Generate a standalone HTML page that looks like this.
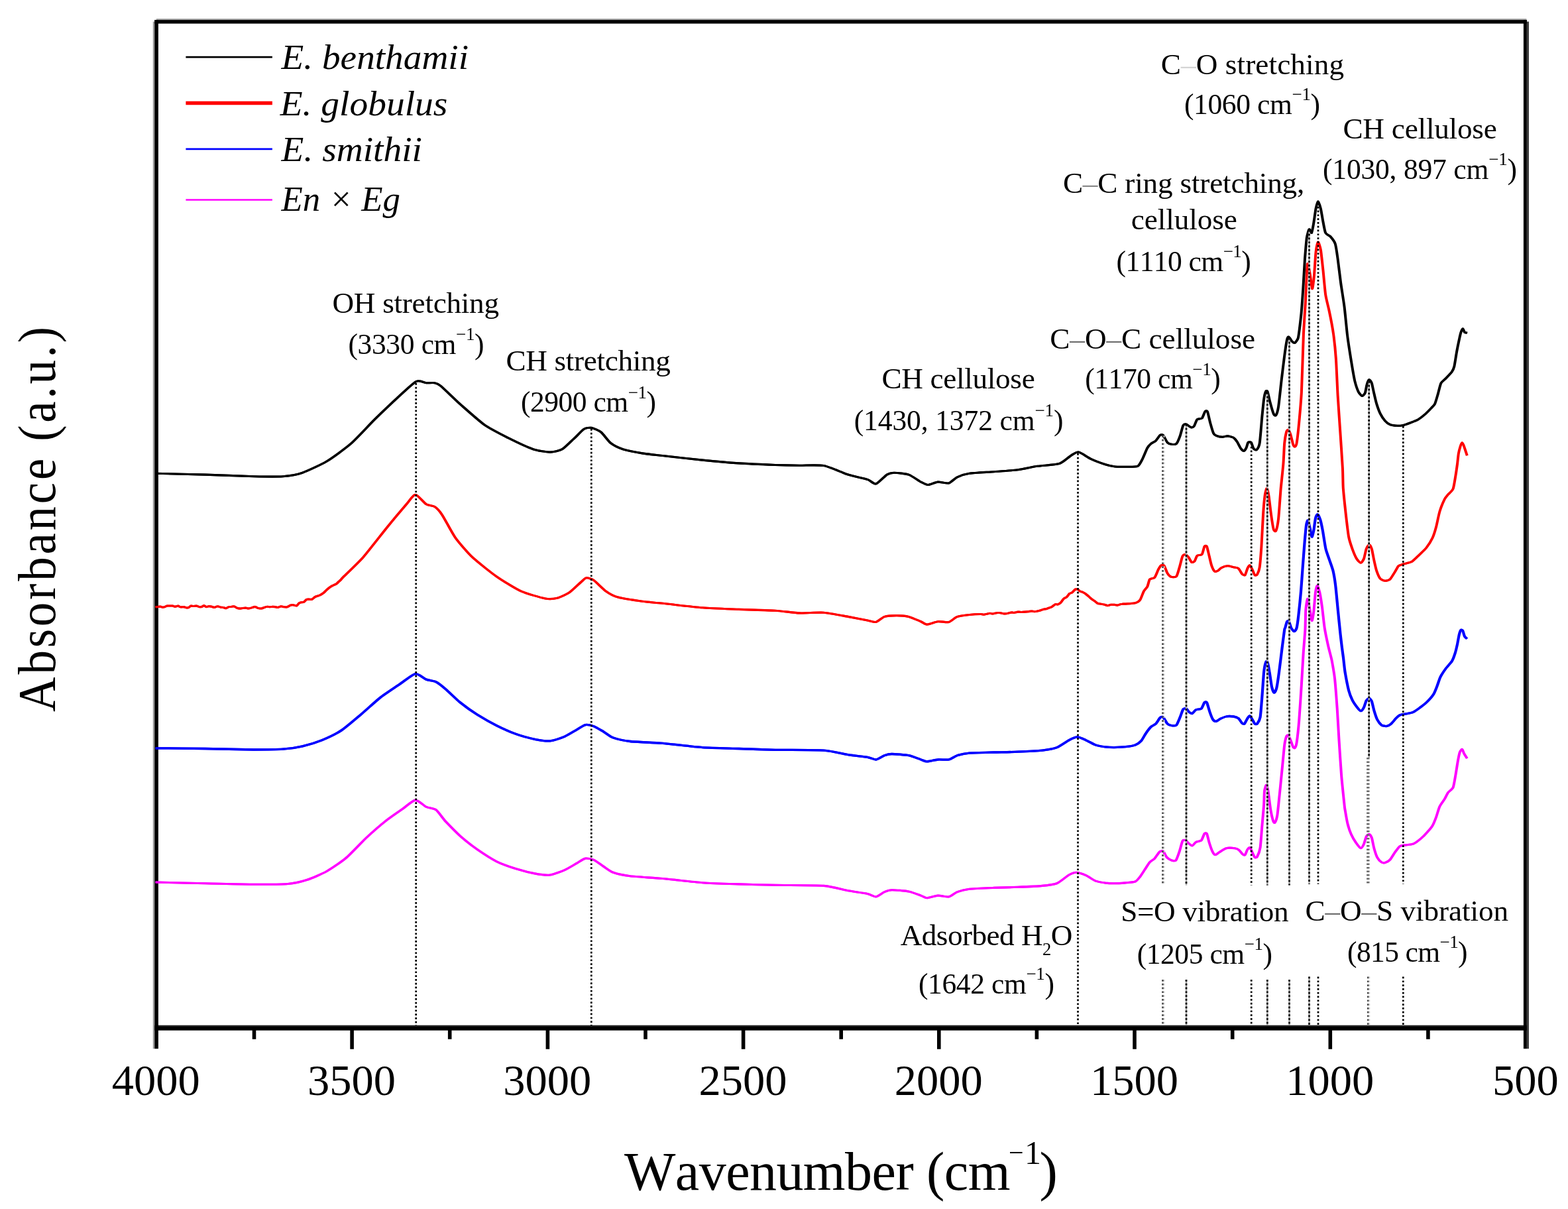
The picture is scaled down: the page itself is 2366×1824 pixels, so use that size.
<!DOCTYPE html>
<html lang="en"><head><meta charset="utf-8"><title>FTIR spectra</title>
<style>html,body{margin:0;padding:0;background:#fff}body{width:2366px;height:1824px;overflow:hidden}svg{display:block}text{font-family:'Liberation Serif', 'DejaVu Serif', serif;fill:#000;white-space:pre;font-kerning:none}</style>
</head><body>
<svg width="2366" height="1824" viewBox="0 0 2366 1824">
<rect width="2366" height="1824" fill="#fff"/>
<g shape-rendering="auto">
<rect x="230.8" y="32.6" width="2.7" height="1549.6" fill="#9a9a9a"/>
<rect x="235.8" y="28.1" width="2067.6" height="2.2" fill="#a6a6a6"/>
<rect x="2303.6" y="32.6" width="3.4" height="1549.6" fill="#3c3c3c"/>
<rect x="233.3" y="1546.7" width="2070.5" height="2.6" fill="#222"/>
<rect x="233.3" y="30.1" width="5.6" height="1552.1" fill="#000"/>
<rect x="2298.9" y="30.1" width="4.9" height="1552.1" fill="#000"/>
<rect x="233.3" y="30.1" width="2070.5" height="5.5" fill="#000"/>
<rect x="233.3" y="1549.0" width="2070.5" height="5.6" fill="#000"/>
</g>
<g fill="none" stroke-linejoin="round" stroke-linecap="butt">
<g stroke="#ff00ff" stroke-width="3.1"><path transform="translate(-0.45 0)" d="M234.8 1331.0C243.1 1331.2 293.6 1332.4 309.9 1332.8C326.2 1333.1 369.5 1334.2 383.2 1334.2C396.8 1334.3 425.6 1334.3 434.4 1333.5C443.3 1332.8 457.3 1329.4 463.7 1327.3C470.2 1325.2 486.6 1318.1 493.0 1314.5C499.5 1310.8 515.9 1299.8 522.3 1294.3C528.8 1288.9 545.2 1271.1 551.6 1265.0C558.1 1259.0 574.9 1244.2 581.0 1239.4C587.0 1234.5 601.6 1224.6 606.6 1221.1C611.6 1217.5 622.7 1207.5 626.7 1207.1C630.8 1206.7 639.8 1215.8 643.2 1217.4C646.6 1219.0 654.7 1219.4 657.9 1221.8C661.1 1224.2 668.5 1235.0 672.5 1239.4C676.6 1243.7 689.3 1256.7 694.5 1261.4C699.7 1266.0 714.1 1277.3 720.1 1281.5C726.2 1285.7 743.0 1296.6 749.5 1299.8C755.9 1303.0 772.3 1308.8 778.8 1310.8C785.2 1312.8 802.4 1317.1 808.1 1318.1C813.7 1319.1 825.2 1320.6 830.0 1320.0C834.9 1319.4 847.6 1314.6 852.0 1312.6C856.4 1310.7 866.9 1304.3 870.3 1302.4C873.8 1300.4 880.3 1295.6 883.2 1295.1C886.0 1294.5 892.9 1295.9 896.0 1297.3C899.0 1298.6 907.4 1305.0 910.6 1307.1C913.8 1309.2 920.8 1314.7 925.3 1316.3C929.7 1317.9 942.7 1320.8 950.9 1321.8C959.1 1322.8 988.0 1324.4 1000.0 1325.5C1012.0 1326.5 1047.3 1330.8 1059.9 1331.7C1072.5 1332.6 1102.7 1333.5 1114.8 1333.9C1126.9 1334.3 1155.7 1335.1 1169.8 1335.3C1183.9 1335.6 1231.0 1335.5 1243.0 1336.4C1255.1 1337.4 1272.4 1342.4 1279.7 1343.8C1286.9 1345.1 1304.3 1347.5 1309.0 1348.5C1313.6 1349.5 1319.0 1353.3 1321.8 1352.9C1324.6 1352.6 1332.0 1346.7 1334.6 1345.6C1337.2 1344.5 1341.6 1342.8 1345.6 1342.7C1349.6 1342.6 1366.4 1343.9 1371.2 1344.9C1376.1 1345.8 1386.5 1350.0 1389.6 1351.1C1392.6 1352.2 1395.9 1354.8 1398.7 1354.8C1401.5 1354.8 1411.6 1351.3 1415.2 1351.1C1418.8 1350.9 1428.5 1353.5 1431.7 1352.9C1434.9 1352.3 1441.1 1346.9 1444.5 1345.6C1447.9 1344.3 1456.8 1341.9 1462.8 1341.2C1468.9 1340.5 1491.4 1339.7 1499.5 1339.4C1507.5 1339.1 1528.0 1338.6 1536.1 1338.3C1544.1 1338.0 1566.3 1337.1 1572.7 1336.4C1579.2 1335.8 1590.3 1334.6 1594.7 1332.8C1599.1 1331.0 1609.8 1321.8 1613.0 1320.0C1616.2 1318.2 1621.2 1316.2 1624.0 1316.3C1626.8 1316.4 1635.4 1319.3 1638.6 1320.7C1641.9 1322.1 1650.1 1327.9 1653.3 1329.1C1656.5 1330.4 1664.9 1331.6 1667.9 1332.1C1671.0 1332.5 1677.4 1332.8 1680.8 1332.8C1684.1 1332.8 1694.8 1332.2 1698.3 1331.9C1701.9 1331.6 1710.5 1331.0 1713.0 1330.0C1715.4 1329.0 1718.7 1324.7 1720.3 1322.7C1721.9 1320.7 1726.0 1314.1 1727.6 1311.7C1729.2 1309.3 1733.3 1302.5 1734.9 1300.7C1736.6 1298.9 1740.7 1297.0 1742.3 1295.2C1743.9 1293.5 1748.2 1286.4 1749.6 1285.2C1751.0 1284.0 1753.9 1283.3 1755.1 1284.2C1756.3 1285.2 1759.2 1291.9 1760.6 1293.4C1762.0 1294.9 1766.4 1297.5 1767.9 1298.0C1769.4 1298.5 1773.0 1299.5 1774.3 1298.0C1775.6 1296.5 1778.7 1287.5 1779.8 1284.2C1780.9 1281.0 1783.4 1270.5 1784.4 1268.7C1785.4 1266.9 1788.0 1267.4 1789.0 1267.8C1790.0 1268.2 1792.4 1271.4 1793.6 1272.3C1794.7 1273.3 1797.8 1276.2 1799.0 1276.0C1800.3 1275.8 1803.0 1271.4 1804.5 1270.5C1806.1 1269.6 1811.4 1269.2 1812.8 1267.8C1814.2 1266.4 1816.5 1258.8 1817.4 1257.7C1818.3 1256.6 1820.2 1256.2 1821.0 1257.7C1821.8 1259.2 1823.8 1268.5 1824.7 1271.4C1825.6 1274.3 1828.3 1282.2 1829.3 1284.2C1830.3 1286.3 1832.7 1289.5 1833.8 1289.7C1835.0 1289.9 1837.5 1287.2 1839.3 1286.1C1841.2 1285.0 1847.7 1280.4 1850.3 1279.7C1852.9 1279.0 1861.0 1279.4 1863.2 1279.7C1865.3 1280.0 1868.3 1281.4 1869.6 1282.4C1870.9 1283.4 1874.0 1288.0 1875.1 1288.8C1876.1 1289.6 1877.9 1290.5 1878.7 1289.7C1879.5 1288.9 1881.6 1282.7 1882.4 1281.5C1883.2 1280.3 1885.2 1278.3 1886.0 1278.8C1886.8 1279.3 1888.9 1284.5 1889.7 1286.1C1890.5 1287.7 1892.6 1292.7 1893.4 1293.4C1894.2 1294.1 1896.1 1294.1 1897.0 1292.5C1897.9 1290.9 1900.8 1283.9 1901.6 1278.8C1902.4 1273.6 1903.8 1252.8 1904.4 1245.8C1905.0 1238.7 1906.7 1220.4 1907.1 1214.7C1907.5 1208.9 1907.6 1196.9 1908.0 1193.6C1908.4 1190.3 1910.2 1184.4 1910.8 1184.4C1911.4 1184.4 1912.8 1189.6 1913.5 1193.6C1914.2 1197.6 1916.4 1216.2 1917.2 1221.1C1918.0 1225.9 1920.1 1235.3 1920.8 1237.5C1921.5 1239.8 1922.9 1242.0 1923.6 1241.2C1924.3 1240.4 1926.4 1235.1 1927.3 1230.2C1928.1 1225.4 1930.1 1204.9 1930.9 1197.3C1931.7 1189.6 1933.8 1168.7 1934.6 1160.6C1935.4 1152.6 1937.5 1129.4 1938.2 1124.0C1938.9 1118.6 1940.4 1112.8 1941.0 1111.2C1941.6 1109.6 1943.0 1108.7 1943.7 1109.3C1944.4 1109.9 1946.6 1114.8 1947.4 1116.7C1948.2 1118.6 1950.4 1125.4 1951.1 1126.7C1951.8 1128.0 1953.2 1129.3 1953.8 1128.6C1954.4 1127.9 1955.9 1124.9 1956.6 1120.3C1957.3 1115.8 1959.4 1097.0 1960.2 1087.4C1961.0 1077.7 1963.2 1043.5 1963.9 1032.4C1964.6 1021.3 1966.0 995.7 1966.6 986.6C1967.2 977.6 1969.0 957.4 1969.4 950.0C1969.8 942.6 1969.9 924.9 1970.3 919.8C1970.7 914.6 1972.4 903.7 1973.0 903.3C1973.6 902.9 1975.1 912.5 1975.8 916.1C1976.5 919.7 1978.7 935.5 1979.5 936.3C1980.2 937.1 1981.6 928.1 1982.2 923.4C1982.8 918.8 1984.3 898.6 1984.9 894.1C1985.5 889.7 1987.0 883.2 1987.7 883.2C1988.4 883.2 1990.5 890.5 1991.4 894.1C1992.2 897.8 1994.2 910.3 1995.0 916.1C1995.8 922.0 1997.7 940.8 1998.7 947.3C1999.7 953.7 2003.0 969.3 2004.2 974.7C2005.4 980.1 2008.5 990.9 2009.6 996.2C2010.6 1001.6 2013.1 1015.3 2014.0 1023.3C2014.9 1031.3 2017.0 1059.0 2017.7 1069.0C2018.4 1079.1 2019.7 1103.8 2020.4 1114.8C2021.1 1125.9 2023.2 1158.7 2024.1 1169.8C2025.0 1180.9 2028.1 1209.8 2028.7 1215.6C2029.3 1221.3 2029.1 1219.1 2029.6 1222.0C2030.1 1224.9 2032.3 1238.1 2033.3 1242.1C2034.3 1246.2 2037.3 1255.4 2038.8 1258.6C2040.2 1261.8 2044.5 1269.1 2046.1 1271.4C2047.7 1273.7 2052.1 1279.5 2053.4 1279.7C2054.7 1279.9 2057.1 1275.2 2058.0 1273.3C2058.9 1271.3 2060.8 1263.9 2061.6 1262.3C2062.5 1260.7 2065.0 1258.4 2065.9 1258.6C2066.8 1258.8 2069.0 1261.7 2069.9 1264.1C2070.7 1266.5 2072.6 1277.4 2073.6 1280.6C2074.5 1283.8 2076.9 1291.2 2078.1 1293.4C2079.3 1295.6 2083.2 1299.8 2084.5 1300.7C2085.9 1301.6 2088.6 1302.1 2090.0 1301.6C2091.4 1301.2 2095.8 1298.8 2097.4 1297.1C2099.0 1295.4 2103.1 1288.3 2104.7 1286.1C2106.3 1283.9 2110.4 1278.1 2112.0 1276.9C2113.6 1275.7 2117.1 1275.5 2119.3 1275.1C2121.6 1274.7 2129.5 1274.3 2132.2 1273.3C2134.8 1272.3 2140.7 1267.9 2143.2 1265.9C2145.6 1263.9 2152.1 1257.2 2154.1 1254.9C2156.2 1252.7 2160.1 1248.2 2161.5 1245.8C2162.9 1243.4 2165.8 1236.2 2167.0 1233.0C2168.2 1229.7 2171.0 1219.5 2172.5 1216.5C2173.9 1213.5 2178.4 1207.8 2179.8 1205.5C2181.2 1203.2 2183.9 1197.3 2185.3 1195.4C2186.7 1193.5 2191.4 1190.9 2192.6 1188.1C2193.8 1185.3 2195.5 1174.2 2196.3 1169.8C2197.1 1165.3 2199.2 1151.6 2199.9 1147.8C2200.6 1144.0 2202.0 1136.9 2202.7 1135.0C2203.4 1133.1 2205.6 1130.2 2206.3 1130.4C2207.0 1130.6 2208.3 1135.3 2209.1 1136.8C2209.9 1138.3 2213.2 1143.3 2213.7 1144.1"/><path transform="translate(0.45 0)" d="M234.8 1331.0C243.1 1331.2 293.6 1332.4 309.9 1332.8C326.2 1333.1 369.5 1334.2 383.2 1334.2C396.8 1334.3 425.6 1334.3 434.4 1333.5C443.3 1332.8 457.3 1329.4 463.7 1327.3C470.2 1325.2 486.6 1318.1 493.0 1314.5C499.5 1310.8 515.9 1299.8 522.3 1294.3C528.8 1288.9 545.2 1271.1 551.6 1265.0C558.1 1259.0 574.9 1244.2 581.0 1239.4C587.0 1234.5 601.6 1224.6 606.6 1221.1C611.6 1217.5 622.7 1207.5 626.7 1207.1C630.8 1206.7 639.8 1215.8 643.2 1217.4C646.6 1219.0 654.7 1219.4 657.9 1221.8C661.1 1224.2 668.5 1235.0 672.5 1239.4C676.6 1243.7 689.3 1256.7 694.5 1261.4C699.7 1266.0 714.1 1277.3 720.1 1281.5C726.2 1285.7 743.0 1296.6 749.5 1299.8C755.9 1303.0 772.3 1308.8 778.8 1310.8C785.2 1312.8 802.4 1317.1 808.1 1318.1C813.7 1319.1 825.2 1320.6 830.0 1320.0C834.9 1319.4 847.6 1314.6 852.0 1312.6C856.4 1310.7 866.9 1304.3 870.3 1302.4C873.8 1300.4 880.3 1295.6 883.2 1295.1C886.0 1294.5 892.9 1295.9 896.0 1297.3C899.0 1298.6 907.4 1305.0 910.6 1307.1C913.8 1309.2 920.8 1314.7 925.3 1316.3C929.7 1317.9 942.7 1320.8 950.9 1321.8C959.1 1322.8 988.0 1324.4 1000.0 1325.5C1012.0 1326.5 1047.3 1330.8 1059.9 1331.7C1072.5 1332.6 1102.7 1333.5 1114.8 1333.9C1126.9 1334.3 1155.7 1335.1 1169.8 1335.3C1183.9 1335.6 1231.0 1335.5 1243.0 1336.4C1255.1 1337.4 1272.4 1342.4 1279.7 1343.8C1286.9 1345.1 1304.3 1347.5 1309.0 1348.5C1313.6 1349.5 1319.0 1353.3 1321.8 1352.9C1324.6 1352.6 1332.0 1346.7 1334.6 1345.6C1337.2 1344.5 1341.6 1342.8 1345.6 1342.7C1349.6 1342.6 1366.4 1343.9 1371.2 1344.9C1376.1 1345.8 1386.5 1350.0 1389.6 1351.1C1392.6 1352.2 1395.9 1354.8 1398.7 1354.8C1401.5 1354.8 1411.6 1351.3 1415.2 1351.1C1418.8 1350.9 1428.5 1353.5 1431.7 1352.9C1434.9 1352.3 1441.1 1346.9 1444.5 1345.6C1447.9 1344.3 1456.8 1341.9 1462.8 1341.2C1468.9 1340.5 1491.4 1339.7 1499.5 1339.4C1507.5 1339.1 1528.0 1338.6 1536.1 1338.3C1544.1 1338.0 1566.3 1337.1 1572.7 1336.4C1579.2 1335.8 1590.3 1334.6 1594.7 1332.8C1599.1 1331.0 1609.8 1321.8 1613.0 1320.0C1616.2 1318.2 1621.2 1316.2 1624.0 1316.3C1626.8 1316.4 1635.4 1319.3 1638.6 1320.7C1641.9 1322.1 1650.1 1327.9 1653.3 1329.1C1656.5 1330.4 1664.9 1331.6 1667.9 1332.1C1671.0 1332.5 1677.4 1332.8 1680.8 1332.8C1684.1 1332.8 1694.8 1332.2 1698.3 1331.9C1701.9 1331.6 1710.5 1331.0 1713.0 1330.0C1715.4 1329.0 1718.7 1324.7 1720.3 1322.7C1721.9 1320.7 1726.0 1314.1 1727.6 1311.7C1729.2 1309.3 1733.3 1302.5 1734.9 1300.7C1736.6 1298.9 1740.7 1297.0 1742.3 1295.2C1743.9 1293.5 1748.2 1286.4 1749.6 1285.2C1751.0 1284.0 1753.9 1283.3 1755.1 1284.2C1756.3 1285.2 1759.2 1291.9 1760.6 1293.4C1762.0 1294.9 1766.4 1297.5 1767.9 1298.0C1769.4 1298.5 1773.0 1299.5 1774.3 1298.0C1775.6 1296.5 1778.7 1287.5 1779.8 1284.2C1780.9 1281.0 1783.4 1270.5 1784.4 1268.7C1785.4 1266.9 1788.0 1267.4 1789.0 1267.8C1790.0 1268.2 1792.4 1271.4 1793.6 1272.3C1794.7 1273.3 1797.8 1276.2 1799.0 1276.0C1800.3 1275.8 1803.0 1271.4 1804.5 1270.5C1806.1 1269.6 1811.4 1269.2 1812.8 1267.8C1814.2 1266.4 1816.5 1258.8 1817.4 1257.7C1818.3 1256.6 1820.2 1256.2 1821.0 1257.7C1821.8 1259.2 1823.8 1268.5 1824.7 1271.4C1825.6 1274.3 1828.3 1282.2 1829.3 1284.2C1830.3 1286.3 1832.7 1289.5 1833.8 1289.7C1835.0 1289.9 1837.5 1287.2 1839.3 1286.1C1841.2 1285.0 1847.7 1280.4 1850.3 1279.7C1852.9 1279.0 1861.0 1279.4 1863.2 1279.7C1865.3 1280.0 1868.3 1281.4 1869.6 1282.4C1870.9 1283.4 1874.0 1288.0 1875.1 1288.8C1876.1 1289.6 1877.9 1290.5 1878.7 1289.7C1879.5 1288.9 1881.6 1282.7 1882.4 1281.5C1883.2 1280.3 1885.2 1278.3 1886.0 1278.8C1886.8 1279.3 1888.9 1284.5 1889.7 1286.1C1890.5 1287.7 1892.6 1292.7 1893.4 1293.4C1894.2 1294.1 1896.1 1294.1 1897.0 1292.5C1897.9 1290.9 1900.8 1283.9 1901.6 1278.8C1902.4 1273.6 1903.8 1252.8 1904.4 1245.8C1905.0 1238.7 1906.7 1220.4 1907.1 1214.7C1907.5 1208.9 1907.6 1196.9 1908.0 1193.6C1908.4 1190.3 1910.2 1184.4 1910.8 1184.4C1911.4 1184.4 1912.8 1189.6 1913.5 1193.6C1914.2 1197.6 1916.4 1216.2 1917.2 1221.1C1918.0 1225.9 1920.1 1235.3 1920.8 1237.5C1921.5 1239.8 1922.9 1242.0 1923.6 1241.2C1924.3 1240.4 1926.4 1235.1 1927.3 1230.2C1928.1 1225.4 1930.1 1204.9 1930.9 1197.3C1931.7 1189.6 1933.8 1168.7 1934.6 1160.6C1935.4 1152.6 1937.5 1129.4 1938.2 1124.0C1938.9 1118.6 1940.4 1112.8 1941.0 1111.2C1941.6 1109.6 1943.0 1108.7 1943.7 1109.3C1944.4 1109.9 1946.6 1114.8 1947.4 1116.7C1948.2 1118.6 1950.4 1125.4 1951.1 1126.7C1951.8 1128.0 1953.2 1129.3 1953.8 1128.6C1954.4 1127.9 1955.9 1124.9 1956.6 1120.3C1957.3 1115.8 1959.4 1097.0 1960.2 1087.4C1961.0 1077.7 1963.2 1043.5 1963.9 1032.4C1964.6 1021.3 1966.0 995.7 1966.6 986.6C1967.2 977.6 1969.0 957.4 1969.4 950.0C1969.8 942.6 1969.9 924.9 1970.3 919.8C1970.7 914.6 1972.4 903.7 1973.0 903.3C1973.6 902.9 1975.1 912.5 1975.8 916.1C1976.5 919.7 1978.7 935.5 1979.5 936.3C1980.2 937.1 1981.6 928.1 1982.2 923.4C1982.8 918.8 1984.3 898.6 1984.9 894.1C1985.5 889.7 1987.0 883.2 1987.7 883.2C1988.4 883.2 1990.5 890.5 1991.4 894.1C1992.2 897.8 1994.2 910.3 1995.0 916.1C1995.8 922.0 1997.7 940.8 1998.7 947.3C1999.7 953.7 2003.0 969.3 2004.2 974.7C2005.4 980.1 2008.5 990.9 2009.6 996.2C2010.6 1001.6 2013.1 1015.3 2014.0 1023.3C2014.9 1031.3 2017.0 1059.0 2017.7 1069.0C2018.4 1079.1 2019.7 1103.8 2020.4 1114.8C2021.1 1125.9 2023.2 1158.7 2024.1 1169.8C2025.0 1180.9 2028.1 1209.8 2028.7 1215.6C2029.3 1221.3 2029.1 1219.1 2029.6 1222.0C2030.1 1224.9 2032.3 1238.1 2033.3 1242.1C2034.3 1246.2 2037.3 1255.4 2038.8 1258.6C2040.2 1261.8 2044.5 1269.1 2046.1 1271.4C2047.7 1273.7 2052.1 1279.5 2053.4 1279.7C2054.7 1279.9 2057.1 1275.2 2058.0 1273.3C2058.9 1271.3 2060.8 1263.9 2061.6 1262.3C2062.5 1260.7 2065.0 1258.4 2065.9 1258.6C2066.8 1258.8 2069.0 1261.7 2069.9 1264.1C2070.7 1266.5 2072.6 1277.4 2073.6 1280.6C2074.5 1283.8 2076.9 1291.2 2078.1 1293.4C2079.3 1295.6 2083.2 1299.8 2084.5 1300.7C2085.9 1301.6 2088.6 1302.1 2090.0 1301.6C2091.4 1301.2 2095.8 1298.8 2097.4 1297.1C2099.0 1295.4 2103.1 1288.3 2104.7 1286.1C2106.3 1283.9 2110.4 1278.1 2112.0 1276.9C2113.6 1275.7 2117.1 1275.5 2119.3 1275.1C2121.6 1274.7 2129.5 1274.3 2132.2 1273.3C2134.8 1272.3 2140.7 1267.9 2143.2 1265.9C2145.6 1263.9 2152.1 1257.2 2154.1 1254.9C2156.2 1252.7 2160.1 1248.2 2161.5 1245.8C2162.9 1243.4 2165.8 1236.2 2167.0 1233.0C2168.2 1229.7 2171.0 1219.5 2172.5 1216.5C2173.9 1213.5 2178.4 1207.8 2179.8 1205.5C2181.2 1203.2 2183.9 1197.3 2185.3 1195.4C2186.7 1193.5 2191.4 1190.9 2192.6 1188.1C2193.8 1185.3 2195.5 1174.2 2196.3 1169.8C2197.1 1165.3 2199.2 1151.6 2199.9 1147.8C2200.6 1144.0 2202.0 1136.9 2202.7 1135.0C2203.4 1133.1 2205.6 1130.2 2206.3 1130.4C2207.0 1130.6 2208.3 1135.3 2209.1 1136.8C2209.9 1138.3 2213.2 1143.3 2213.7 1144.1"/></g>
<g stroke="#0000ff" stroke-width="3.3"><path transform="translate(-0.45 0)" d="M234.8 1128.8C243.1 1128.8 293.6 1129.2 309.9 1129.5C326.2 1129.7 370.3 1130.9 383.2 1131.0C396.0 1131.0 419.0 1130.8 427.1 1130.2C435.2 1129.7 450.0 1127.3 456.4 1125.8C462.9 1124.3 479.3 1119.3 485.7 1116.7C492.2 1114.0 508.6 1106.2 515.0 1102.0C521.5 1097.8 537.9 1083.6 544.3 1078.2C550.8 1072.8 567.2 1057.6 573.6 1052.6C580.1 1047.5 597.1 1036.4 602.9 1032.4C608.8 1028.5 622.3 1017.5 626.7 1016.7C631.2 1015.9 639.8 1023.8 643.2 1025.1C646.6 1026.4 654.7 1027.1 657.9 1028.8C661.1 1030.4 668.5 1036.3 672.5 1039.7C676.6 1043.2 689.3 1055.7 694.5 1059.9C699.7 1064.1 714.1 1074.4 720.1 1078.2C726.2 1082.0 743.0 1091.5 749.5 1094.7C755.9 1097.9 772.3 1105.2 778.8 1107.5C785.2 1109.8 802.4 1114.4 808.1 1115.6C813.7 1116.7 825.2 1118.2 830.0 1117.8C834.9 1117.3 847.6 1113.0 852.0 1111.2C856.4 1109.3 866.9 1102.8 870.3 1100.9C873.8 1099.0 880.3 1094.2 883.2 1093.6C886.0 1093.0 892.9 1094.7 896.0 1095.8C899.0 1096.9 907.4 1102.0 910.6 1103.8C913.8 1105.7 920.8 1111.4 925.3 1113.0C929.7 1114.6 942.7 1117.6 950.9 1118.5C959.1 1119.4 988.0 1120.4 1000.0 1121.4C1012.0 1122.4 1047.3 1126.8 1059.9 1127.7C1072.5 1128.5 1102.7 1129.1 1114.8 1129.5C1126.9 1129.9 1155.7 1131.0 1169.8 1131.3C1183.9 1131.6 1231.0 1131.2 1243.0 1132.1C1255.1 1132.9 1272.4 1137.5 1279.7 1138.6C1286.9 1139.8 1304.3 1141.5 1309.0 1142.3C1313.6 1143.1 1319.0 1146.3 1321.8 1146.0C1324.6 1145.7 1332.0 1140.7 1334.6 1139.7C1337.2 1138.8 1341.6 1137.5 1345.6 1137.5C1349.6 1137.5 1366.4 1138.8 1371.2 1139.7C1376.1 1140.7 1386.5 1145.0 1389.6 1146.0C1392.6 1147.0 1395.9 1148.9 1398.7 1148.9C1401.5 1148.9 1411.6 1146.3 1415.2 1146.0C1418.8 1145.6 1428.5 1146.7 1431.7 1146.0C1434.9 1145.3 1441.1 1140.8 1444.5 1139.7C1447.9 1138.7 1456.8 1136.6 1462.8 1136.1C1468.9 1135.6 1491.4 1135.2 1499.5 1135.0C1507.5 1134.8 1528.0 1134.6 1536.1 1134.2C1544.1 1133.9 1566.3 1132.8 1572.7 1132.1C1579.2 1131.3 1590.3 1129.3 1594.7 1127.7C1599.1 1126.0 1609.6 1118.4 1613.0 1116.7C1616.4 1114.9 1623.0 1111.9 1625.8 1111.9C1628.6 1111.9 1635.6 1115.3 1638.6 1116.7C1641.7 1118.0 1650.1 1122.9 1653.3 1124.0C1656.5 1125.1 1664.9 1126.5 1667.9 1126.9C1671.0 1127.3 1677.4 1127.7 1680.8 1127.7C1684.1 1127.6 1694.8 1127.1 1698.3 1126.7C1701.9 1126.3 1710.3 1125.0 1713.0 1124.0C1715.6 1123.0 1720.3 1119.6 1722.1 1117.6C1723.9 1115.6 1727.8 1108.0 1729.5 1105.7C1731.1 1103.4 1735.2 1098.0 1736.8 1096.5C1738.4 1095.0 1742.6 1093.5 1744.1 1091.9C1745.6 1090.4 1749.3 1083.9 1750.5 1082.8C1751.7 1081.7 1753.9 1080.9 1755.1 1081.9C1756.3 1082.9 1760.1 1090.5 1761.5 1091.9C1762.9 1093.4 1766.4 1094.5 1767.9 1094.7C1769.4 1094.9 1773.8 1095.2 1775.2 1093.8C1776.6 1092.4 1779.6 1084.5 1780.7 1081.9C1781.8 1079.2 1784.3 1071.4 1785.3 1070.0C1786.3 1068.6 1788.9 1068.5 1789.9 1069.0C1790.9 1069.6 1793.5 1073.7 1794.5 1074.5C1795.5 1075.3 1797.9 1076.8 1799.0 1076.4C1800.2 1076.0 1803.0 1071.7 1804.5 1070.9C1806.1 1070.1 1811.4 1070.3 1812.8 1069.0C1814.2 1067.8 1816.5 1060.9 1817.4 1059.9C1818.3 1058.9 1820.1 1058.3 1821.0 1059.9C1821.9 1061.5 1824.6 1071.7 1825.6 1074.5C1826.6 1077.4 1829.2 1084.0 1830.2 1085.5C1831.2 1087.0 1833.6 1088.4 1834.8 1088.3C1836.0 1088.2 1839.5 1085.4 1841.2 1084.6C1842.9 1083.8 1848.1 1081.4 1850.3 1081.0C1852.5 1080.5 1859.3 1080.7 1861.3 1081.0C1863.3 1081.3 1867.2 1082.6 1868.6 1083.7C1870.1 1084.8 1873.1 1090.1 1874.1 1091.0C1875.1 1091.9 1876.9 1092.7 1877.8 1091.9C1878.7 1091.1 1881.5 1085.0 1882.4 1083.7C1883.3 1082.4 1885.2 1079.8 1886.0 1080.0C1886.8 1080.2 1888.9 1084.2 1889.7 1085.5C1890.5 1086.8 1892.6 1091.2 1893.4 1091.9C1894.2 1092.6 1896.1 1093.0 1897.0 1091.9C1897.9 1090.8 1900.8 1086.4 1901.6 1081.9C1902.4 1077.3 1903.8 1058.2 1904.4 1050.7C1905.0 1043.3 1906.5 1019.7 1907.1 1014.1C1907.7 1008.5 1909.3 1001.2 1909.9 999.5C1910.4 997.7 1911.6 997.1 1912.2 998.5C1912.8 999.9 1914.6 1008.1 1915.3 1012.3C1916.1 1016.4 1918.2 1032.5 1919.0 1036.1C1919.8 1039.7 1921.9 1045.0 1922.7 1045.2C1923.5 1045.4 1925.5 1041.3 1926.3 1037.9C1927.1 1034.5 1929.1 1020.8 1930.0 1014.1C1930.9 1007.5 1933.7 984.5 1934.6 977.5C1935.5 970.4 1937.7 953.3 1938.2 950.0C1938.7 946.7 1938.8 948.6 1939.2 947.3C1939.6 945.9 1941.3 939.2 1941.9 938.1C1942.5 937.0 1943.9 936.2 1944.7 937.2C1945.4 938.2 1947.4 945.5 1948.3 947.3C1949.2 949.0 1952.0 952.7 1952.9 952.7C1953.8 952.7 1955.9 949.9 1956.6 947.3C1957.3 944.6 1958.6 935.0 1959.3 928.9C1960.0 922.9 1962.3 900.4 1963.0 892.3C1963.7 884.2 1965.1 863.7 1965.7 855.7C1966.3 847.6 1967.9 826.1 1968.5 819.0C1969.1 812.0 1970.6 795.3 1971.2 791.6C1971.8 787.8 1973.0 784.6 1973.6 785.2C1974.2 785.8 1976.1 794.3 1976.7 797.1C1977.3 799.8 1978.8 809.5 1979.5 809.9C1980.1 810.3 1981.6 803.8 1982.2 800.7C1982.8 797.7 1984.3 785.1 1984.9 782.4C1985.6 779.7 1987.4 775.8 1988.2 776.0C1989.0 776.2 1991.4 781.5 1992.3 784.2C1993.1 787.0 1995.0 795.9 1995.9 800.7C1996.8 805.6 1999.4 823.4 2000.5 828.2C2001.6 833.0 2004.8 841.1 2006.0 844.7C2007.2 848.3 2010.5 856.9 2011.5 861.2C2012.5 865.4 2014.4 876.7 2015.2 883.2C2016.0 889.6 2018.0 911.7 2018.8 919.8C2019.6 927.8 2021.8 950.1 2022.5 956.4C2023.2 962.8 2024.5 973.4 2025.0 977.5C2025.5 981.5 2026.6 989.0 2027.1 993.0C2027.6 997.1 2028.7 1008.8 2029.6 1014.1C2030.5 1019.4 2033.9 1036.9 2035.1 1041.6C2036.3 1046.2 2039.2 1053.4 2040.6 1056.2C2042.0 1059.0 2046.5 1065.4 2047.9 1067.2C2049.3 1069.0 2052.3 1072.7 2053.4 1072.7C2054.5 1072.7 2057.1 1068.9 2058.0 1067.2C2058.9 1065.5 2060.8 1058.7 2061.6 1057.1C2062.5 1055.6 2065.0 1053.4 2065.9 1053.5C2066.8 1053.6 2069.0 1055.9 2069.9 1058.1C2070.7 1060.2 2072.6 1069.7 2073.6 1072.7C2074.5 1075.7 2076.9 1083.2 2078.1 1085.5C2079.3 1087.8 2083.0 1092.7 2084.5 1093.8C2086.1 1094.9 2090.3 1095.8 2091.9 1095.6C2093.5 1095.4 2097.6 1093.3 2099.2 1091.9C2100.8 1090.6 2105.1 1085.1 2106.5 1083.7C2107.9 1082.3 2110.6 1079.8 2112.0 1079.1C2113.4 1078.4 2117.1 1077.8 2119.3 1077.3C2121.6 1076.8 2129.5 1075.7 2132.2 1074.5C2134.8 1073.4 2140.7 1069.0 2143.2 1067.2C2145.6 1065.4 2151.9 1060.3 2154.1 1058.1C2156.4 1055.8 2161.7 1049.7 2163.3 1047.1C2164.9 1044.5 2167.7 1037.1 2168.8 1034.2C2169.9 1031.4 2172.0 1024.2 2173.4 1021.4C2174.8 1018.6 2179.7 1011.2 2181.6 1008.6C2183.5 1006.0 2189.3 1000.0 2190.8 997.6C2192.3 995.2 2194.4 989.5 2195.3 986.6C2196.3 983.8 2198.3 975.2 2199.0 972.0C2199.7 968.8 2201.2 959.7 2201.8 957.3C2202.4 955.0 2203.9 951.1 2204.5 950.5C2205.1 949.9 2206.6 950.8 2207.3 951.8C2207.9 952.9 2209.3 958.8 2210.0 960.1C2210.7 961.4 2213.3 963.3 2213.7 963.7"/><path transform="translate(0.45 0)" d="M234.8 1128.8C243.1 1128.8 293.6 1129.2 309.9 1129.5C326.2 1129.7 370.3 1130.9 383.2 1131.0C396.0 1131.0 419.0 1130.8 427.1 1130.2C435.2 1129.7 450.0 1127.3 456.4 1125.8C462.9 1124.3 479.3 1119.3 485.7 1116.7C492.2 1114.0 508.6 1106.2 515.0 1102.0C521.5 1097.8 537.9 1083.6 544.3 1078.2C550.8 1072.8 567.2 1057.6 573.6 1052.6C580.1 1047.5 597.1 1036.4 602.9 1032.4C608.8 1028.5 622.3 1017.5 626.7 1016.7C631.2 1015.9 639.8 1023.8 643.2 1025.1C646.6 1026.4 654.7 1027.1 657.9 1028.8C661.1 1030.4 668.5 1036.3 672.5 1039.7C676.6 1043.2 689.3 1055.7 694.5 1059.9C699.7 1064.1 714.1 1074.4 720.1 1078.2C726.2 1082.0 743.0 1091.5 749.5 1094.7C755.9 1097.9 772.3 1105.2 778.8 1107.5C785.2 1109.8 802.4 1114.4 808.1 1115.6C813.7 1116.7 825.2 1118.2 830.0 1117.8C834.9 1117.3 847.6 1113.0 852.0 1111.2C856.4 1109.3 866.9 1102.8 870.3 1100.9C873.8 1099.0 880.3 1094.2 883.2 1093.6C886.0 1093.0 892.9 1094.7 896.0 1095.8C899.0 1096.9 907.4 1102.0 910.6 1103.8C913.8 1105.7 920.8 1111.4 925.3 1113.0C929.7 1114.6 942.7 1117.6 950.9 1118.5C959.1 1119.4 988.0 1120.4 1000.0 1121.4C1012.0 1122.4 1047.3 1126.8 1059.9 1127.7C1072.5 1128.5 1102.7 1129.1 1114.8 1129.5C1126.9 1129.9 1155.7 1131.0 1169.8 1131.3C1183.9 1131.6 1231.0 1131.2 1243.0 1132.1C1255.1 1132.9 1272.4 1137.5 1279.7 1138.6C1286.9 1139.8 1304.3 1141.5 1309.0 1142.3C1313.6 1143.1 1319.0 1146.3 1321.8 1146.0C1324.6 1145.7 1332.0 1140.7 1334.6 1139.7C1337.2 1138.8 1341.6 1137.5 1345.6 1137.5C1349.6 1137.5 1366.4 1138.8 1371.2 1139.7C1376.1 1140.7 1386.5 1145.0 1389.6 1146.0C1392.6 1147.0 1395.9 1148.9 1398.7 1148.9C1401.5 1148.9 1411.6 1146.3 1415.2 1146.0C1418.8 1145.6 1428.5 1146.7 1431.7 1146.0C1434.9 1145.3 1441.1 1140.8 1444.5 1139.7C1447.9 1138.7 1456.8 1136.6 1462.8 1136.1C1468.9 1135.6 1491.4 1135.2 1499.5 1135.0C1507.5 1134.8 1528.0 1134.6 1536.1 1134.2C1544.1 1133.9 1566.3 1132.8 1572.7 1132.1C1579.2 1131.3 1590.3 1129.3 1594.7 1127.7C1599.1 1126.0 1609.6 1118.4 1613.0 1116.7C1616.4 1114.9 1623.0 1111.9 1625.8 1111.9C1628.6 1111.9 1635.6 1115.3 1638.6 1116.7C1641.7 1118.0 1650.1 1122.9 1653.3 1124.0C1656.5 1125.1 1664.9 1126.5 1667.9 1126.9C1671.0 1127.3 1677.4 1127.7 1680.8 1127.7C1684.1 1127.6 1694.8 1127.1 1698.3 1126.7C1701.9 1126.3 1710.3 1125.0 1713.0 1124.0C1715.6 1123.0 1720.3 1119.6 1722.1 1117.6C1723.9 1115.6 1727.8 1108.0 1729.5 1105.7C1731.1 1103.4 1735.2 1098.0 1736.8 1096.5C1738.4 1095.0 1742.6 1093.5 1744.1 1091.9C1745.6 1090.4 1749.3 1083.9 1750.5 1082.8C1751.7 1081.7 1753.9 1080.9 1755.1 1081.9C1756.3 1082.9 1760.1 1090.5 1761.5 1091.9C1762.9 1093.4 1766.4 1094.5 1767.9 1094.7C1769.4 1094.9 1773.8 1095.2 1775.2 1093.8C1776.6 1092.4 1779.6 1084.5 1780.7 1081.9C1781.8 1079.2 1784.3 1071.4 1785.3 1070.0C1786.3 1068.6 1788.9 1068.5 1789.9 1069.0C1790.9 1069.6 1793.5 1073.7 1794.5 1074.5C1795.5 1075.3 1797.9 1076.8 1799.0 1076.4C1800.2 1076.0 1803.0 1071.7 1804.5 1070.9C1806.1 1070.1 1811.4 1070.3 1812.8 1069.0C1814.2 1067.8 1816.5 1060.9 1817.4 1059.9C1818.3 1058.9 1820.1 1058.3 1821.0 1059.9C1821.9 1061.5 1824.6 1071.7 1825.6 1074.5C1826.6 1077.4 1829.2 1084.0 1830.2 1085.5C1831.2 1087.0 1833.6 1088.4 1834.8 1088.3C1836.0 1088.2 1839.5 1085.4 1841.2 1084.6C1842.9 1083.8 1848.1 1081.4 1850.3 1081.0C1852.5 1080.5 1859.3 1080.7 1861.3 1081.0C1863.3 1081.3 1867.2 1082.6 1868.6 1083.7C1870.1 1084.8 1873.1 1090.1 1874.1 1091.0C1875.1 1091.9 1876.9 1092.7 1877.8 1091.9C1878.7 1091.1 1881.5 1085.0 1882.4 1083.7C1883.3 1082.4 1885.2 1079.8 1886.0 1080.0C1886.8 1080.2 1888.9 1084.2 1889.7 1085.5C1890.5 1086.8 1892.6 1091.2 1893.4 1091.9C1894.2 1092.6 1896.1 1093.0 1897.0 1091.9C1897.9 1090.8 1900.8 1086.4 1901.6 1081.9C1902.4 1077.3 1903.8 1058.2 1904.4 1050.7C1905.0 1043.3 1906.5 1019.7 1907.1 1014.1C1907.7 1008.5 1909.3 1001.2 1909.9 999.5C1910.4 997.7 1911.6 997.1 1912.2 998.5C1912.8 999.9 1914.6 1008.1 1915.3 1012.3C1916.1 1016.4 1918.2 1032.5 1919.0 1036.1C1919.8 1039.7 1921.9 1045.0 1922.7 1045.2C1923.5 1045.4 1925.5 1041.3 1926.3 1037.9C1927.1 1034.5 1929.1 1020.8 1930.0 1014.1C1930.9 1007.5 1933.7 984.5 1934.6 977.5C1935.5 970.4 1937.7 953.3 1938.2 950.0C1938.7 946.7 1938.8 948.6 1939.2 947.3C1939.6 945.9 1941.3 939.2 1941.9 938.1C1942.5 937.0 1943.9 936.2 1944.7 937.2C1945.4 938.2 1947.4 945.5 1948.3 947.3C1949.2 949.0 1952.0 952.7 1952.9 952.7C1953.8 952.7 1955.9 949.9 1956.6 947.3C1957.3 944.6 1958.6 935.0 1959.3 928.9C1960.0 922.9 1962.3 900.4 1963.0 892.3C1963.7 884.2 1965.1 863.7 1965.7 855.7C1966.3 847.6 1967.9 826.1 1968.5 819.0C1969.1 812.0 1970.6 795.3 1971.2 791.6C1971.8 787.8 1973.0 784.6 1973.6 785.2C1974.2 785.8 1976.1 794.3 1976.7 797.1C1977.3 799.8 1978.8 809.5 1979.5 809.9C1980.1 810.3 1981.6 803.8 1982.2 800.7C1982.8 797.7 1984.3 785.1 1984.9 782.4C1985.6 779.7 1987.4 775.8 1988.2 776.0C1989.0 776.2 1991.4 781.5 1992.3 784.2C1993.1 787.0 1995.0 795.9 1995.9 800.7C1996.8 805.6 1999.4 823.4 2000.5 828.2C2001.6 833.0 2004.8 841.1 2006.0 844.7C2007.2 848.3 2010.5 856.9 2011.5 861.2C2012.5 865.4 2014.4 876.7 2015.2 883.2C2016.0 889.6 2018.0 911.7 2018.8 919.8C2019.6 927.8 2021.8 950.1 2022.5 956.4C2023.2 962.8 2024.5 973.4 2025.0 977.5C2025.5 981.5 2026.6 989.0 2027.1 993.0C2027.6 997.1 2028.7 1008.8 2029.6 1014.1C2030.5 1019.4 2033.9 1036.9 2035.1 1041.6C2036.3 1046.2 2039.2 1053.4 2040.6 1056.2C2042.0 1059.0 2046.5 1065.4 2047.9 1067.2C2049.3 1069.0 2052.3 1072.7 2053.4 1072.7C2054.5 1072.7 2057.1 1068.9 2058.0 1067.2C2058.9 1065.5 2060.8 1058.7 2061.6 1057.1C2062.5 1055.6 2065.0 1053.4 2065.9 1053.5C2066.8 1053.6 2069.0 1055.9 2069.9 1058.1C2070.7 1060.2 2072.6 1069.7 2073.6 1072.7C2074.5 1075.7 2076.9 1083.2 2078.1 1085.5C2079.3 1087.8 2083.0 1092.7 2084.5 1093.8C2086.1 1094.9 2090.3 1095.8 2091.9 1095.6C2093.5 1095.4 2097.6 1093.3 2099.2 1091.9C2100.8 1090.6 2105.1 1085.1 2106.5 1083.7C2107.9 1082.3 2110.6 1079.8 2112.0 1079.1C2113.4 1078.4 2117.1 1077.8 2119.3 1077.3C2121.6 1076.8 2129.5 1075.7 2132.2 1074.5C2134.8 1073.4 2140.7 1069.0 2143.2 1067.2C2145.6 1065.4 2151.9 1060.3 2154.1 1058.1C2156.4 1055.8 2161.7 1049.7 2163.3 1047.1C2164.9 1044.5 2167.7 1037.1 2168.8 1034.2C2169.9 1031.4 2172.0 1024.2 2173.4 1021.4C2174.8 1018.6 2179.7 1011.2 2181.6 1008.6C2183.5 1006.0 2189.3 1000.0 2190.8 997.6C2192.3 995.2 2194.4 989.5 2195.3 986.6C2196.3 983.8 2198.3 975.2 2199.0 972.0C2199.7 968.8 2201.2 959.7 2201.8 957.3C2202.4 955.0 2203.9 951.1 2204.5 950.5C2205.1 949.9 2206.6 950.8 2207.3 951.8C2207.9 952.9 2209.3 958.8 2210.0 960.1C2210.7 961.4 2213.3 963.3 2213.7 963.7"/></g>
<g stroke="#ff0000" stroke-width="3.1"><path transform="translate(-0.45 0)" d="M234.8 915.8C235.6 915.7 240.8 915.0 242.0 915.1C243.2 915.1 244.6 916.1 245.3 916.2C246.0 916.2 247.7 916.0 248.4 915.7C249.2 915.5 251.4 914.3 252.3 914.1C253.2 913.9 255.6 914.0 256.5 914.0C257.4 914.0 259.8 913.9 260.6 914.0C261.3 914.2 262.8 915.2 263.7 915.2C264.6 915.2 267.8 914.1 268.7 914.1C269.7 914.2 271.3 915.7 272.3 915.8C273.2 916.0 276.6 915.5 277.6 915.6C278.6 915.7 280.7 916.8 281.5 916.9C282.3 917.0 283.8 916.8 284.6 916.5C285.3 916.2 287.5 914.2 288.2 914.0C289.0 913.8 290.6 914.5 291.5 914.5C292.4 914.6 295.4 914.0 296.5 914.1C297.5 914.2 300.0 915.5 300.9 915.6C301.8 915.7 304.0 915.5 304.8 915.2C305.5 915.0 307.1 913.5 307.9 913.5C308.6 913.6 310.5 915.6 311.3 915.7C312.1 915.8 314.4 914.6 315.3 914.6C316.3 914.5 318.9 915.0 319.8 915.2C320.6 915.4 322.5 916.5 323.4 916.5C324.4 916.4 327.2 914.8 328.2 914.8C329.2 914.7 331.5 915.6 332.5 915.9C333.6 916.1 336.7 916.5 337.7 916.7C338.7 916.9 340.6 917.8 341.3 917.7C342.1 917.6 343.7 916.2 344.6 915.9C345.5 915.6 348.4 915.3 349.4 915.2C350.4 915.0 352.6 914.6 353.6 914.9C354.6 915.2 357.2 917.2 358.2 917.5C359.2 917.9 361.7 918.1 362.6 918.1C363.5 918.1 365.4 917.6 366.3 917.5C367.2 917.4 369.8 917.1 370.8 917.1C371.7 917.2 373.8 918.0 374.9 918.0C375.9 918.0 379.1 917.1 380.2 916.8C381.3 916.5 383.8 915.3 384.8 915.4C385.8 915.4 388.4 917.1 389.5 917.4C390.6 917.6 394.0 918.0 395.0 917.9C396.0 917.8 397.7 916.8 398.6 916.5C399.5 916.2 402.3 915.3 403.2 915.2C404.2 915.1 406.5 915.7 407.3 915.7C408.2 915.7 409.7 915.4 410.6 915.4C411.5 915.3 414.5 915.5 415.5 915.6C416.4 915.7 418.1 916.6 419.0 916.5C420.0 916.4 423.1 914.8 424.2 914.7C425.2 914.6 427.2 915.5 428.2 915.6C429.2 915.8 432.3 916.0 433.4 915.7C434.5 915.4 437.5 913.4 438.5 913.1C439.5 912.7 441.5 912.6 442.5 912.7C443.5 912.8 446.7 914.2 447.7 913.9C448.6 913.6 450.2 910.7 451.0 910.2C451.7 909.6 453.7 909.0 454.5 908.8C455.4 908.6 457.8 908.7 458.7 908.2C459.5 907.7 461.4 905.1 462.3 904.6C463.1 904.2 465.3 904.2 466.3 904.1C467.2 904.1 469.6 904.6 470.6 904.2C471.6 903.8 474.3 901.2 475.3 900.7C476.3 900.1 479.0 899.3 479.8 899.0C480.6 898.7 482.0 898.3 482.9 897.9C483.8 897.4 486.7 895.6 487.8 894.8C488.9 893.9 491.8 891.0 492.7 890.1C493.7 889.2 495.8 887.4 496.7 886.7C497.6 886.0 500.4 884.3 501.2 883.8C502.1 883.3 503.6 882.7 504.3 882.4C505.0 882.1 507.0 881.3 507.7 880.8C508.4 880.3 510.1 878.4 510.8 877.8C511.5 877.1 513.3 875.7 514.1 874.9C514.9 874.1 514.2 874.4 517.9 870.6C521.7 866.8 540.7 849.0 548.0 840.7C555.3 832.3 577.4 803.7 584.6 794.9C591.9 786.0 609.3 765.4 613.9 760.1C618.6 754.7 623.5 746.1 626.7 746.2C630.0 746.2 640.0 758.8 643.2 760.8C646.4 762.8 653.4 762.7 656.0 764.5C658.7 766.2 663.6 771.4 667.0 776.6C670.5 781.7 682.1 804.3 687.2 811.4C692.2 818.4 706.0 834.2 712.8 840.7C719.7 847.1 741.4 864.3 749.5 870.0C757.5 875.6 778.0 888.3 786.1 891.9C794.1 895.6 816.7 901.8 822.7 902.9C828.8 904.1 837.0 903.2 841.0 902.2C845.1 901.2 855.3 896.5 859.3 893.8C863.4 891.0 874.8 879.7 877.7 877.3C880.5 874.9 883.0 872.0 885.0 871.8C887.0 871.6 892.7 873.2 896.0 875.5C899.2 877.7 910.3 889.1 914.3 891.9C918.3 894.8 926.6 899.4 932.6 901.1C938.6 902.8 961.8 906.3 969.2 907.3C976.6 908.3 990.0 909.2 1000.0 910.3C1010.0 911.3 1047.3 915.8 1059.9 916.8C1072.5 917.9 1102.7 918.9 1114.8 919.4C1126.9 919.9 1159.7 920.6 1169.8 921.2C1179.9 921.8 1198.4 924.6 1206.4 924.9C1214.5 925.2 1235.0 923.6 1243.0 924.2C1251.1 924.8 1272.4 929.1 1279.7 930.4C1286.9 931.7 1304.3 935.0 1309.0 935.9C1313.6 936.8 1319.0 939.1 1321.8 938.5C1324.6 937.9 1331.2 931.5 1334.6 930.4C1338.0 929.3 1348.9 928.6 1352.9 928.6C1357.0 928.6 1367.2 929.4 1371.2 930.4C1375.3 931.4 1386.5 936.4 1389.6 937.7C1392.6 939.0 1395.9 942.1 1398.7 942.1C1401.5 942.1 1411.6 938.1 1415.2 937.7C1418.8 937.3 1428.5 939.3 1431.7 938.5C1434.9 937.7 1441.1 931.6 1444.5 930.4C1447.9 929.2 1458.9 927.9 1462.8 927.5C1466.7 927.0 1477.6 926.5 1480.0 926.5C1482.4 926.5 1483.7 927.3 1484.7 927.2C1485.7 927.2 1488.1 926.4 1489.1 926.2C1490.1 926.0 1492.8 925.3 1493.8 925.3C1494.8 925.3 1497.3 926.0 1498.3 926.0C1499.4 925.9 1502.6 924.8 1503.6 924.7C1504.6 924.5 1506.6 924.4 1507.6 924.5C1508.6 924.6 1512.0 925.3 1512.9 925.5C1513.9 925.6 1515.2 926.0 1516.2 925.9C1517.2 925.9 1520.8 925.3 1522.0 925.0C1523.1 924.8 1525.9 923.9 1526.8 923.9C1527.6 923.8 1529.2 924.5 1530.0 924.5C1530.7 924.5 1532.5 923.8 1533.3 923.7C1534.0 923.5 1536.2 923.2 1537.1 923.1C1538.0 923.1 1540.4 923.5 1541.5 923.5C1542.6 923.5 1545.8 923.2 1546.9 923.1C1548.0 923.0 1550.7 922.7 1551.8 922.6C1552.9 922.5 1555.7 922.0 1556.7 922.0C1557.7 922.0 1559.5 922.7 1560.6 922.7C1561.7 922.7 1565.3 922.1 1566.5 921.8C1567.7 921.5 1570.5 920.6 1571.5 920.3C1572.5 920.0 1574.5 919.2 1575.3 919.1C1576.1 918.9 1577.8 918.9 1578.6 918.7C1579.5 918.5 1581.9 917.5 1582.9 917.1C1583.8 916.8 1586.0 916.3 1587.0 915.7C1588.1 915.1 1591.5 912.0 1592.5 911.6C1593.5 911.2 1595.3 912.2 1596.2 911.9C1597.1 911.7 1599.7 910.1 1600.6 909.2C1601.6 908.3 1603.8 904.5 1604.8 903.6C1605.8 902.6 1608.7 901.5 1609.7 900.6C1610.7 899.7 1612.7 896.5 1613.6 895.7C1614.4 895.0 1616.6 894.8 1617.6 894.1C1618.6 893.3 1621.8 889.5 1622.8 889.0C1623.8 888.5 1625.8 889.0 1626.6 889.4C1627.4 889.7 1629.2 891.8 1629.9 892.2C1630.7 892.6 1632.7 892.9 1633.6 893.3C1634.5 893.7 1636.9 895.0 1637.9 895.7C1639.0 896.5 1642.0 899.2 1643.1 900.1C1644.2 901.0 1646.9 903.6 1647.9 904.3C1649.0 905.1 1651.3 906.5 1652.2 907.1C1653.1 907.8 1655.1 909.8 1656.1 910.3C1657.1 910.7 1660.2 911.0 1661.4 911.2C1662.6 911.4 1665.9 912.0 1667.0 912.3C1668.0 912.6 1670.2 913.7 1671.2 913.7C1672.2 913.7 1674.9 912.5 1676.1 912.3C1677.2 912.2 1680.8 912.3 1681.9 912.4C1682.9 912.5 1684.9 913.2 1685.7 913.2C1686.6 913.1 1689.0 912.1 1689.8 911.9C1690.6 911.6 1692.2 911.2 1693.1 911.2C1694.0 911.1 1695.7 911.2 1697.8 911.1C1700.0 910.9 1710.5 910.4 1713.0 909.7C1715.4 909.1 1718.9 907.0 1720.3 905.1C1721.7 903.2 1724.6 894.5 1725.8 892.3C1727.0 890.1 1730.3 887.0 1731.3 885.0C1732.3 883.0 1733.7 875.5 1734.9 874.0C1736.2 872.5 1740.9 872.9 1742.3 871.2C1743.7 869.6 1746.7 861.4 1747.8 859.3C1748.9 857.3 1751.3 853.5 1752.3 852.9C1753.4 852.3 1755.9 852.5 1756.9 853.8C1757.9 855.2 1760.4 863.0 1761.5 864.8C1762.6 866.6 1765.5 869.8 1767.0 870.3C1768.5 870.8 1773.8 871.0 1775.2 869.4C1776.6 867.8 1778.8 859.0 1779.8 855.7C1780.8 852.4 1783.4 841.3 1784.4 839.2C1785.4 837.1 1788.0 836.2 1789.0 836.4C1790.0 836.6 1792.5 839.7 1793.6 841.0C1794.6 842.3 1797.1 847.7 1798.1 848.4C1799.1 849.0 1801.8 847.6 1802.7 846.5C1803.6 845.4 1805.2 839.4 1806.4 838.3C1807.6 837.2 1812.5 838.0 1813.7 836.4C1814.9 834.9 1816.6 825.9 1817.4 824.5C1818.2 823.2 1820.2 822.9 1821.0 824.5C1821.8 826.2 1823.9 836.0 1824.7 839.2C1825.5 842.4 1827.4 851.3 1828.4 853.8C1829.3 856.4 1831.9 861.3 1832.9 862.1C1833.9 862.9 1836.4 861.8 1837.5 861.2C1838.6 860.6 1841.4 857.4 1843.0 856.6C1844.6 855.8 1850.1 853.9 1852.2 853.8C1854.2 853.7 1859.5 855.3 1861.3 855.7C1863.1 856.1 1867.2 856.4 1868.6 857.5C1870.1 858.6 1873.0 864.6 1874.1 865.8C1875.2 866.9 1877.8 868.5 1878.7 867.6C1879.6 866.7 1881.6 859.1 1882.4 857.5C1883.2 855.9 1885.2 852.7 1886.0 852.9C1886.8 853.1 1888.9 857.7 1889.7 859.3C1890.5 861.0 1892.6 866.8 1893.4 867.6C1894.2 868.4 1896.2 868.0 1897.0 866.7C1897.8 865.4 1900.0 860.3 1900.7 855.7C1901.4 851.0 1902.8 833.6 1903.4 824.5C1904.0 815.5 1905.6 781.9 1906.2 773.3C1906.8 764.6 1908.3 749.8 1908.9 745.8C1909.5 741.8 1911.1 736.4 1911.7 736.6C1912.3 736.8 1913.7 743.2 1914.4 747.6C1915.1 752.1 1917.3 771.3 1918.1 776.9C1918.9 782.6 1921.0 796.3 1921.8 798.9C1922.6 801.5 1924.6 802.5 1925.4 800.7C1926.2 798.9 1928.3 789.5 1929.1 782.4C1929.9 775.4 1931.9 745.7 1932.7 736.6C1933.6 727.6 1935.8 707.5 1936.4 700.0C1937.0 692.5 1937.7 673.8 1938.2 668.5C1938.7 663.2 1940.4 654.2 1941.0 652.0C1941.6 649.8 1943.0 647.9 1943.7 648.4C1944.4 648.8 1946.6 653.3 1947.4 655.7C1948.2 658.1 1950.4 668.3 1951.1 670.3C1951.8 672.3 1953.2 674.2 1953.8 674.0C1954.4 673.8 1955.9 672.5 1956.6 668.5C1957.3 664.5 1959.4 645.8 1960.2 637.4C1961.0 628.9 1963.1 606.2 1963.9 591.6C1964.6 577.0 1966.3 519.1 1966.9 504.5C1967.6 489.9 1969.0 470.3 1969.7 458.7C1970.3 447.1 1972.0 404.2 1972.7 399.0C1973.4 393.9 1975.6 407.8 1976.4 411.9C1977.2 415.9 1979.3 435.1 1980.0 435.7C1980.7 436.3 1982.2 423.4 1982.8 417.4C1983.4 411.3 1984.9 386.5 1985.5 380.7C1986.2 375.0 1988.0 365.6 1988.8 365.2C1989.6 364.8 1992.0 372.3 1992.9 377.1C1993.7 381.8 1995.7 400.8 1996.5 408.2C1997.3 415.7 1999.2 438.1 2000.2 444.8C2001.2 451.6 2004.4 462.8 2005.7 469.4C2007.1 476.0 2011.1 497.0 2012.2 504.9C2013.3 512.9 2015.2 531.5 2015.9 541.6C2016.6 551.6 2017.9 584.4 2018.6 596.5C2019.3 608.6 2021.5 639.4 2022.3 651.5C2023.1 663.6 2025.4 697.0 2025.9 706.4C2026.4 715.8 2026.3 729.3 2026.8 736.6C2027.4 744.0 2029.6 765.2 2030.5 773.3C2031.4 781.3 2034.0 803.8 2035.1 809.9C2036.2 815.9 2039.3 824.6 2040.6 828.2C2041.9 831.8 2045.6 840.5 2047.0 842.9C2048.4 845.2 2052.2 849.3 2053.4 849.3C2054.6 849.3 2057.1 845.2 2058.0 842.9C2058.9 840.5 2060.8 830.5 2061.6 828.2C2062.5 825.9 2065.0 821.8 2065.9 821.8C2066.8 821.8 2069.0 825.5 2069.9 828.2C2070.7 830.9 2072.7 842.9 2073.6 846.5C2074.4 850.1 2076.2 858.3 2077.2 861.2C2078.2 864.1 2081.3 871.4 2082.7 873.1C2084.1 874.7 2088.4 876.1 2090.0 876.2C2091.6 876.3 2095.8 875.4 2097.4 874.0C2099.0 872.5 2103.3 865.2 2104.7 863.0C2106.1 860.8 2108.8 855.2 2110.2 853.8C2111.6 852.5 2115.3 851.8 2117.5 851.1C2119.7 850.4 2127.7 848.9 2130.3 847.4C2132.9 845.9 2138.9 839.7 2141.3 837.4C2143.7 835.0 2150.1 829.2 2152.3 826.4C2154.5 823.6 2159.9 815.1 2161.5 811.7C2163.1 808.3 2165.8 799.7 2167.0 795.2C2168.2 790.8 2171.0 776.1 2172.5 771.4C2173.9 766.8 2178.4 755.9 2179.8 753.1C2181.2 750.3 2183.9 747.5 2185.3 745.8C2186.7 744.1 2191.4 740.6 2192.6 737.5C2193.8 734.5 2195.6 722.4 2196.3 718.3C2197.0 714.2 2198.5 703.7 2199.0 700.0C2199.5 696.3 2200.3 687.4 2200.8 684.4C2201.3 681.5 2203.0 675.3 2203.6 673.4C2204.2 671.6 2205.7 667.9 2206.3 667.9C2206.9 667.9 2208.3 671.3 2209.1 673.4C2209.9 675.6 2213.2 685.7 2213.7 687.2"/><path transform="translate(0.45 0)" d="M234.8 915.8C235.6 915.7 240.8 915.0 242.0 915.1C243.2 915.1 244.6 916.1 245.3 916.2C246.0 916.2 247.7 916.0 248.4 915.7C249.2 915.5 251.4 914.3 252.3 914.1C253.2 913.9 255.6 914.0 256.5 914.0C257.4 914.0 259.8 913.9 260.6 914.0C261.3 914.2 262.8 915.2 263.7 915.2C264.6 915.2 267.8 914.1 268.7 914.1C269.7 914.2 271.3 915.7 272.3 915.8C273.2 916.0 276.6 915.5 277.6 915.6C278.6 915.7 280.7 916.8 281.5 916.9C282.3 917.0 283.8 916.8 284.6 916.5C285.3 916.2 287.5 914.2 288.2 914.0C289.0 913.8 290.6 914.5 291.5 914.5C292.4 914.6 295.4 914.0 296.5 914.1C297.5 914.2 300.0 915.5 300.9 915.6C301.8 915.7 304.0 915.5 304.8 915.2C305.5 915.0 307.1 913.5 307.9 913.5C308.6 913.6 310.5 915.6 311.3 915.7C312.1 915.8 314.4 914.6 315.3 914.6C316.3 914.5 318.9 915.0 319.8 915.2C320.6 915.4 322.5 916.5 323.4 916.5C324.4 916.4 327.2 914.8 328.2 914.8C329.2 914.7 331.5 915.6 332.5 915.9C333.6 916.1 336.7 916.5 337.7 916.7C338.7 916.9 340.6 917.8 341.3 917.7C342.1 917.6 343.7 916.2 344.6 915.9C345.5 915.6 348.4 915.3 349.4 915.2C350.4 915.0 352.6 914.6 353.6 914.9C354.6 915.2 357.2 917.2 358.2 917.5C359.2 917.9 361.7 918.1 362.6 918.1C363.5 918.1 365.4 917.6 366.3 917.5C367.2 917.4 369.8 917.1 370.8 917.1C371.7 917.2 373.8 918.0 374.9 918.0C375.9 918.0 379.1 917.1 380.2 916.8C381.3 916.5 383.8 915.3 384.8 915.4C385.8 915.4 388.4 917.1 389.5 917.4C390.6 917.6 394.0 918.0 395.0 917.9C396.0 917.8 397.7 916.8 398.6 916.5C399.5 916.2 402.3 915.3 403.2 915.2C404.2 915.1 406.5 915.7 407.3 915.7C408.2 915.7 409.7 915.4 410.6 915.4C411.5 915.3 414.5 915.5 415.5 915.6C416.4 915.7 418.1 916.6 419.0 916.5C420.0 916.4 423.1 914.8 424.2 914.7C425.2 914.6 427.2 915.5 428.2 915.6C429.2 915.8 432.3 916.0 433.4 915.7C434.5 915.4 437.5 913.4 438.5 913.1C439.5 912.7 441.5 912.6 442.5 912.7C443.5 912.8 446.7 914.2 447.7 913.9C448.6 913.6 450.2 910.7 451.0 910.2C451.7 909.6 453.7 909.0 454.5 908.8C455.4 908.6 457.8 908.7 458.7 908.2C459.5 907.7 461.4 905.1 462.3 904.6C463.1 904.2 465.3 904.2 466.3 904.1C467.2 904.1 469.6 904.6 470.6 904.2C471.6 903.8 474.3 901.2 475.3 900.7C476.3 900.1 479.0 899.3 479.8 899.0C480.6 898.7 482.0 898.3 482.9 897.9C483.8 897.4 486.7 895.6 487.8 894.8C488.9 893.9 491.8 891.0 492.7 890.1C493.7 889.2 495.8 887.4 496.7 886.7C497.6 886.0 500.4 884.3 501.2 883.8C502.1 883.3 503.6 882.7 504.3 882.4C505.0 882.1 507.0 881.3 507.7 880.8C508.4 880.3 510.1 878.4 510.8 877.8C511.5 877.1 513.3 875.7 514.1 874.9C514.9 874.1 514.2 874.4 517.9 870.6C521.7 866.8 540.7 849.0 548.0 840.7C555.3 832.3 577.4 803.7 584.6 794.9C591.9 786.0 609.3 765.4 613.9 760.1C618.6 754.7 623.5 746.1 626.7 746.2C630.0 746.2 640.0 758.8 643.2 760.8C646.4 762.8 653.4 762.7 656.0 764.5C658.7 766.2 663.6 771.4 667.0 776.6C670.5 781.7 682.1 804.3 687.2 811.4C692.2 818.4 706.0 834.2 712.8 840.7C719.7 847.1 741.4 864.3 749.5 870.0C757.5 875.6 778.0 888.3 786.1 891.9C794.1 895.6 816.7 901.8 822.7 902.9C828.8 904.1 837.0 903.2 841.0 902.2C845.1 901.2 855.3 896.5 859.3 893.8C863.4 891.0 874.8 879.7 877.7 877.3C880.5 874.9 883.0 872.0 885.0 871.8C887.0 871.6 892.7 873.2 896.0 875.5C899.2 877.7 910.3 889.1 914.3 891.9C918.3 894.8 926.6 899.4 932.6 901.1C938.6 902.8 961.8 906.3 969.2 907.3C976.6 908.3 990.0 909.2 1000.0 910.3C1010.0 911.3 1047.3 915.8 1059.9 916.8C1072.5 917.9 1102.7 918.9 1114.8 919.4C1126.9 919.9 1159.7 920.6 1169.8 921.2C1179.9 921.8 1198.4 924.6 1206.4 924.9C1214.5 925.2 1235.0 923.6 1243.0 924.2C1251.1 924.8 1272.4 929.1 1279.7 930.4C1286.9 931.7 1304.3 935.0 1309.0 935.9C1313.6 936.8 1319.0 939.1 1321.8 938.5C1324.6 937.9 1331.2 931.5 1334.6 930.4C1338.0 929.3 1348.9 928.6 1352.9 928.6C1357.0 928.6 1367.2 929.4 1371.2 930.4C1375.3 931.4 1386.5 936.4 1389.6 937.7C1392.6 939.0 1395.9 942.1 1398.7 942.1C1401.5 942.1 1411.6 938.1 1415.2 937.7C1418.8 937.3 1428.5 939.3 1431.7 938.5C1434.9 937.7 1441.1 931.6 1444.5 930.4C1447.9 929.2 1458.9 927.9 1462.8 927.5C1466.7 927.0 1477.6 926.5 1480.0 926.5C1482.4 926.5 1483.7 927.3 1484.7 927.2C1485.7 927.2 1488.1 926.4 1489.1 926.2C1490.1 926.0 1492.8 925.3 1493.8 925.3C1494.8 925.3 1497.3 926.0 1498.3 926.0C1499.4 925.9 1502.6 924.8 1503.6 924.7C1504.6 924.5 1506.6 924.4 1507.6 924.5C1508.6 924.6 1512.0 925.3 1512.9 925.5C1513.9 925.6 1515.2 926.0 1516.2 925.9C1517.2 925.9 1520.8 925.3 1522.0 925.0C1523.1 924.8 1525.9 923.9 1526.8 923.9C1527.6 923.8 1529.2 924.5 1530.0 924.5C1530.7 924.5 1532.5 923.8 1533.3 923.7C1534.0 923.5 1536.2 923.2 1537.1 923.1C1538.0 923.1 1540.4 923.5 1541.5 923.5C1542.6 923.5 1545.8 923.2 1546.9 923.1C1548.0 923.0 1550.7 922.7 1551.8 922.6C1552.9 922.5 1555.7 922.0 1556.7 922.0C1557.7 922.0 1559.5 922.7 1560.6 922.7C1561.7 922.7 1565.3 922.1 1566.5 921.8C1567.7 921.5 1570.5 920.6 1571.5 920.3C1572.5 920.0 1574.5 919.2 1575.3 919.1C1576.1 918.9 1577.8 918.9 1578.6 918.7C1579.5 918.5 1581.9 917.5 1582.9 917.1C1583.8 916.8 1586.0 916.3 1587.0 915.7C1588.1 915.1 1591.5 912.0 1592.5 911.6C1593.5 911.2 1595.3 912.2 1596.2 911.9C1597.1 911.7 1599.7 910.1 1600.6 909.2C1601.6 908.3 1603.8 904.5 1604.8 903.6C1605.8 902.6 1608.7 901.5 1609.7 900.6C1610.7 899.7 1612.7 896.5 1613.6 895.7C1614.4 895.0 1616.6 894.8 1617.6 894.1C1618.6 893.3 1621.8 889.5 1622.8 889.0C1623.8 888.5 1625.8 889.0 1626.6 889.4C1627.4 889.7 1629.2 891.8 1629.9 892.2C1630.7 892.6 1632.7 892.9 1633.6 893.3C1634.5 893.7 1636.9 895.0 1637.9 895.7C1639.0 896.5 1642.0 899.2 1643.1 900.1C1644.2 901.0 1646.9 903.6 1647.9 904.3C1649.0 905.1 1651.3 906.5 1652.2 907.1C1653.1 907.8 1655.1 909.8 1656.1 910.3C1657.1 910.7 1660.2 911.0 1661.4 911.2C1662.6 911.4 1665.9 912.0 1667.0 912.3C1668.0 912.6 1670.2 913.7 1671.2 913.7C1672.2 913.7 1674.9 912.5 1676.1 912.3C1677.2 912.2 1680.8 912.3 1681.9 912.4C1682.9 912.5 1684.9 913.2 1685.7 913.2C1686.6 913.1 1689.0 912.1 1689.8 911.9C1690.6 911.6 1692.2 911.2 1693.1 911.2C1694.0 911.1 1695.7 911.2 1697.8 911.1C1700.0 910.9 1710.5 910.4 1713.0 909.7C1715.4 909.1 1718.9 907.0 1720.3 905.1C1721.7 903.2 1724.6 894.5 1725.8 892.3C1727.0 890.1 1730.3 887.0 1731.3 885.0C1732.3 883.0 1733.7 875.5 1734.9 874.0C1736.2 872.5 1740.9 872.9 1742.3 871.2C1743.7 869.6 1746.7 861.4 1747.8 859.3C1748.9 857.3 1751.3 853.5 1752.3 852.9C1753.4 852.3 1755.9 852.5 1756.9 853.8C1757.9 855.2 1760.4 863.0 1761.5 864.8C1762.6 866.6 1765.5 869.8 1767.0 870.3C1768.5 870.8 1773.8 871.0 1775.2 869.4C1776.6 867.8 1778.8 859.0 1779.8 855.7C1780.8 852.4 1783.4 841.3 1784.4 839.2C1785.4 837.1 1788.0 836.2 1789.0 836.4C1790.0 836.6 1792.5 839.7 1793.6 841.0C1794.6 842.3 1797.1 847.7 1798.1 848.4C1799.1 849.0 1801.8 847.6 1802.7 846.5C1803.6 845.4 1805.2 839.4 1806.4 838.3C1807.6 837.2 1812.5 838.0 1813.7 836.4C1814.9 834.9 1816.6 825.9 1817.4 824.5C1818.2 823.2 1820.2 822.9 1821.0 824.5C1821.8 826.2 1823.9 836.0 1824.7 839.2C1825.5 842.4 1827.4 851.3 1828.4 853.8C1829.3 856.4 1831.9 861.3 1832.9 862.1C1833.9 862.9 1836.4 861.8 1837.5 861.2C1838.6 860.6 1841.4 857.4 1843.0 856.6C1844.6 855.8 1850.1 853.9 1852.2 853.8C1854.2 853.7 1859.5 855.3 1861.3 855.7C1863.1 856.1 1867.2 856.4 1868.6 857.5C1870.1 858.6 1873.0 864.6 1874.1 865.8C1875.2 866.9 1877.8 868.5 1878.7 867.6C1879.6 866.7 1881.6 859.1 1882.4 857.5C1883.2 855.9 1885.2 852.7 1886.0 852.9C1886.8 853.1 1888.9 857.7 1889.7 859.3C1890.5 861.0 1892.6 866.8 1893.4 867.6C1894.2 868.4 1896.2 868.0 1897.0 866.7C1897.8 865.4 1900.0 860.3 1900.7 855.7C1901.4 851.0 1902.8 833.6 1903.4 824.5C1904.0 815.5 1905.6 781.9 1906.2 773.3C1906.8 764.6 1908.3 749.8 1908.9 745.8C1909.5 741.8 1911.1 736.4 1911.7 736.6C1912.3 736.8 1913.7 743.2 1914.4 747.6C1915.1 752.1 1917.3 771.3 1918.1 776.9C1918.9 782.6 1921.0 796.3 1921.8 798.9C1922.6 801.5 1924.6 802.5 1925.4 800.7C1926.2 798.9 1928.3 789.5 1929.1 782.4C1929.9 775.4 1931.9 745.7 1932.7 736.6C1933.6 727.6 1935.8 707.5 1936.4 700.0C1937.0 692.5 1937.7 673.8 1938.2 668.5C1938.7 663.2 1940.4 654.2 1941.0 652.0C1941.6 649.8 1943.0 647.9 1943.7 648.4C1944.4 648.8 1946.6 653.3 1947.4 655.7C1948.2 658.1 1950.4 668.3 1951.1 670.3C1951.8 672.3 1953.2 674.2 1953.8 674.0C1954.4 673.8 1955.9 672.5 1956.6 668.5C1957.3 664.5 1959.4 645.8 1960.2 637.4C1961.0 628.9 1963.1 606.2 1963.9 591.6C1964.6 577.0 1966.3 519.1 1966.9 504.5C1967.6 489.9 1969.0 470.3 1969.7 458.7C1970.3 447.1 1972.0 404.2 1972.7 399.0C1973.4 393.9 1975.6 407.8 1976.4 411.9C1977.2 415.9 1979.3 435.1 1980.0 435.7C1980.7 436.3 1982.2 423.4 1982.8 417.4C1983.4 411.3 1984.9 386.5 1985.5 380.7C1986.2 375.0 1988.0 365.6 1988.8 365.2C1989.6 364.8 1992.0 372.3 1992.9 377.1C1993.7 381.8 1995.7 400.8 1996.5 408.2C1997.3 415.7 1999.2 438.1 2000.2 444.8C2001.2 451.6 2004.4 462.8 2005.7 469.4C2007.1 476.0 2011.1 497.0 2012.2 504.9C2013.3 512.9 2015.2 531.5 2015.9 541.6C2016.6 551.6 2017.9 584.4 2018.6 596.5C2019.3 608.6 2021.5 639.4 2022.3 651.5C2023.1 663.6 2025.4 697.0 2025.9 706.4C2026.4 715.8 2026.3 729.3 2026.8 736.6C2027.4 744.0 2029.6 765.2 2030.5 773.3C2031.4 781.3 2034.0 803.8 2035.1 809.9C2036.2 815.9 2039.3 824.6 2040.6 828.2C2041.9 831.8 2045.6 840.5 2047.0 842.9C2048.4 845.2 2052.2 849.3 2053.4 849.3C2054.6 849.3 2057.1 845.2 2058.0 842.9C2058.9 840.5 2060.8 830.5 2061.6 828.2C2062.5 825.9 2065.0 821.8 2065.9 821.8C2066.8 821.8 2069.0 825.5 2069.9 828.2C2070.7 830.9 2072.7 842.9 2073.6 846.5C2074.4 850.1 2076.2 858.3 2077.2 861.2C2078.2 864.1 2081.3 871.4 2082.7 873.1C2084.1 874.7 2088.4 876.1 2090.0 876.2C2091.6 876.3 2095.8 875.4 2097.4 874.0C2099.0 872.5 2103.3 865.2 2104.7 863.0C2106.1 860.8 2108.8 855.2 2110.2 853.8C2111.6 852.5 2115.3 851.8 2117.5 851.1C2119.7 850.4 2127.7 848.9 2130.3 847.4C2132.9 845.9 2138.9 839.7 2141.3 837.4C2143.7 835.0 2150.1 829.2 2152.3 826.4C2154.5 823.6 2159.9 815.1 2161.5 811.7C2163.1 808.3 2165.8 799.7 2167.0 795.2C2168.2 790.8 2171.0 776.1 2172.5 771.4C2173.9 766.8 2178.4 755.9 2179.8 753.1C2181.2 750.3 2183.9 747.5 2185.3 745.8C2186.7 744.1 2191.4 740.6 2192.6 737.5C2193.8 734.5 2195.6 722.4 2196.3 718.3C2197.0 714.2 2198.5 703.7 2199.0 700.0C2199.5 696.3 2200.3 687.4 2200.8 684.4C2201.3 681.5 2203.0 675.3 2203.6 673.4C2204.2 671.6 2205.7 667.9 2206.3 667.9C2206.9 667.9 2208.3 671.3 2209.1 673.4C2209.9 675.6 2213.2 685.7 2213.7 687.2"/></g>
<g stroke="#000000" stroke-width="3.1"><path transform="translate(-0.45 0)" d="M234.8 714.3C243.1 714.5 293.6 715.6 309.9 716.1C326.2 716.6 370.3 718.4 383.2 718.7C396.0 719.0 419.0 719.3 427.1 718.7C435.2 718.1 449.2 715.7 456.4 713.2C463.7 710.7 485.0 700.8 493.0 696.0C501.1 691.1 521.6 676.3 529.7 669.2C537.7 662.2 558.2 639.8 566.3 631.9C574.4 623.9 596.3 603.2 602.9 597.1C609.6 590.9 623.3 578.6 626.7 576.2C630.2 573.8 632.3 574.9 634.1 575.1C635.9 575.3 640.8 577.4 643.2 577.7C645.6 577.9 653.6 577.1 656.0 577.7C658.5 578.2 661.0 578.9 665.2 582.4C669.4 586.0 687.3 603.4 694.5 609.9C701.8 616.3 723.1 635.4 731.1 641.0C739.2 646.7 759.7 657.1 767.8 661.2C775.8 665.2 797.5 675.4 804.4 677.7C811.2 680.0 825.2 682.1 830.0 682.1C834.9 682.1 844.3 680.0 848.4 677.7C852.4 675.4 863.0 664.5 866.7 661.2C870.3 657.8 878.5 649.0 881.3 647.3C884.1 645.5 889.5 644.9 892.3 645.4C895.1 645.9 903.7 649.5 907.0 652.0C910.2 654.6 918.0 665.7 921.6 668.5C925.2 671.3 934.7 676.0 939.9 677.7C945.2 679.3 962.6 682.8 969.2 683.9C975.8 685.0 990.0 686.4 1000.0 687.5C1010.0 688.7 1047.3 692.9 1059.9 694.1C1072.5 695.4 1102.7 698.1 1114.8 698.9C1126.9 699.7 1159.7 701.1 1169.8 701.5C1179.9 701.8 1198.4 702.1 1206.4 702.2C1214.5 702.3 1235.0 701.0 1243.0 702.6C1251.1 704.1 1272.4 713.8 1279.7 716.1C1286.9 718.4 1304.3 721.9 1309.0 723.4C1313.6 725.0 1318.6 730.8 1321.8 730.0C1325.0 729.2 1335.3 718.0 1338.3 716.1C1341.3 714.3 1345.6 713.2 1349.3 713.2C1352.9 713.2 1366.8 714.6 1371.2 716.1C1375.7 717.6 1386.3 725.4 1389.6 727.1C1392.8 728.8 1397.7 731.5 1400.5 731.5C1403.4 731.5 1411.8 727.4 1415.2 727.1C1418.6 726.8 1428.5 729.7 1431.7 728.9C1434.9 728.1 1441.1 721.4 1444.5 719.8C1447.9 718.2 1456.8 715.2 1462.8 714.3C1468.9 713.4 1491.4 712.3 1499.5 711.7C1507.5 711.1 1528.8 709.7 1536.1 708.8C1543.3 707.9 1558.5 704.3 1565.4 703.3C1572.2 702.3 1592.7 701.4 1598.4 699.6C1604.0 697.8 1613.4 688.7 1616.7 686.8C1619.9 684.9 1624.4 681.4 1627.7 682.1C1630.9 682.7 1641.5 690.3 1646.0 692.3C1650.4 694.4 1663.9 699.4 1667.9 700.7C1672.0 702.0 1679.3 703.6 1682.6 704.0C1685.9 704.4 1694.6 704.3 1698.3 704.2C1702.1 704.1 1713.8 704.6 1716.6 703.3C1719.5 702.0 1722.3 695.3 1724.0 692.3C1725.6 689.3 1729.9 678.3 1731.3 675.8C1732.7 673.3 1735.4 670.6 1736.8 669.4C1738.2 668.2 1742.6 666.2 1744.1 664.8C1745.6 663.4 1749.3 657.5 1750.5 656.6C1751.7 655.7 1753.9 655.4 1755.1 656.6C1756.3 657.8 1760.1 666.1 1761.5 667.6C1762.9 669.1 1766.4 670.1 1767.9 670.3C1769.4 670.5 1773.8 670.8 1775.2 669.4C1776.6 668.0 1779.6 660.5 1780.7 657.5C1781.8 654.5 1784.3 643.9 1785.3 641.9C1786.3 640.0 1788.6 639.8 1789.9 640.1C1791.2 640.4 1795.9 644.4 1797.2 644.7C1798.5 645.0 1800.8 644.2 1801.8 642.9C1802.8 641.5 1805.1 634.1 1806.4 632.8C1807.7 631.5 1812.4 632.3 1813.7 631.0C1815.0 629.6 1817.4 622.0 1818.3 620.9C1819.2 619.8 1821.0 618.9 1821.9 620.9C1822.8 622.9 1825.5 635.6 1826.5 639.2C1827.5 642.8 1830.1 651.8 1831.1 653.8C1832.1 655.9 1834.2 656.9 1835.7 657.5C1837.2 658.1 1843.0 659.3 1844.8 659.3C1846.6 659.4 1850.3 657.8 1852.2 657.9C1854.0 658.0 1859.7 659.3 1861.3 660.3C1862.9 661.2 1865.6 664.9 1866.8 666.7C1868.0 668.5 1871.2 675.2 1872.3 676.7C1873.4 678.3 1876.0 680.5 1876.9 680.4C1877.8 680.3 1879.8 677.2 1880.5 675.8C1881.3 674.4 1882.5 668.5 1883.3 667.6C1884.1 666.7 1887.0 666.6 1887.9 667.6C1888.8 668.6 1890.6 675.5 1891.5 676.7C1892.4 677.9 1895.1 679.5 1896.1 678.6C1897.1 677.7 1899.8 674.0 1900.7 668.5C1901.6 663.0 1903.7 635.5 1904.4 628.2C1905.1 621.0 1906.5 606.7 1907.1 602.6C1907.7 598.4 1909.2 592.0 1909.9 590.7C1910.5 589.3 1911.9 588.9 1912.6 590.7C1913.3 592.4 1915.3 602.5 1916.3 606.2C1917.3 610.0 1920.8 622.3 1921.8 624.5C1922.8 626.8 1924.6 627.6 1925.4 626.4C1926.2 625.2 1928.2 619.4 1929.1 613.6C1930.0 607.7 1932.7 581.7 1933.7 573.3C1934.7 564.8 1937.3 543.3 1938.2 536.6C1939.1 530.0 1941.2 515.9 1941.9 512.8C1942.6 509.7 1943.8 508.0 1944.7 508.2C1945.5 508.4 1948.2 513.6 1949.2 514.7C1950.2 515.7 1952.8 517.8 1953.8 517.4C1954.8 517.0 1957.7 512.5 1958.4 511.0C1959.1 509.5 1959.3 507.7 1959.9 503.4C1960.5 499.2 1962.8 479.8 1963.6 472.3C1964.3 464.9 1965.7 444.7 1966.3 435.7C1966.9 426.6 1968.4 398.4 1969.0 389.9C1969.7 381.4 1971.1 363.6 1971.8 358.8C1972.5 353.9 1974.7 346.7 1975.5 345.9C1976.3 345.1 1978.4 352.2 1979.1 351.4C1979.8 350.6 1981.2 342.6 1981.9 338.6C1982.6 334.6 1984.8 318.6 1985.5 314.8C1986.3 311.0 1988.0 303.8 1988.8 303.8C1989.6 303.8 1992.0 311.4 1992.9 314.8C1993.7 318.2 1995.7 330.9 1996.5 334.9C1997.3 339.0 1999.0 349.0 2000.2 351.4C2001.4 353.8 2005.9 355.1 2007.5 356.9C2009.1 358.7 2013.6 364.3 2014.8 367.9C2016.0 371.5 2017.6 383.4 2018.5 389.9C2019.4 396.3 2022.0 418.5 2023.1 426.5C2024.2 434.6 2027.5 454.3 2028.6 463.2C2029.7 472.0 2032.1 498.1 2033.2 506.9C2034.3 515.8 2037.5 536.1 2038.7 543.6C2039.9 551.0 2043.0 569.3 2044.2 574.5C2045.5 579.8 2048.5 588.5 2049.7 591.0C2051.0 593.5 2054.1 597.2 2055.2 597.4C2056.3 597.6 2059.0 594.8 2059.8 592.9C2060.6 590.9 2061.9 582.3 2062.6 580.0C2063.2 577.8 2065.1 572.9 2065.9 572.7C2066.7 572.5 2069.0 575.8 2069.9 578.2C2070.7 580.6 2072.7 591.3 2073.6 594.7C2074.4 598.1 2076.2 606.1 2077.2 609.3C2078.2 612.6 2081.3 621.2 2082.7 624.0C2084.1 626.8 2088.4 633.2 2090.0 635.0C2091.6 636.8 2095.3 639.7 2097.4 640.5C2099.4 641.3 2106.1 642.2 2108.4 642.3C2110.6 642.4 2115.3 641.9 2117.5 641.4C2119.7 640.9 2126.1 638.6 2128.5 637.7C2130.9 636.8 2137.1 634.6 2139.5 633.2C2141.9 631.7 2148.3 626.8 2150.5 624.9C2152.7 623.0 2158.0 617.5 2159.6 615.8C2161.2 614.0 2164.0 611.7 2165.1 609.3C2166.2 607.0 2168.7 598.1 2169.7 594.7C2170.7 591.3 2173.0 580.8 2174.3 578.2C2175.6 575.6 2179.8 572.8 2181.6 570.9C2183.4 569.0 2189.4 562.8 2190.8 560.8C2192.2 558.8 2193.6 555.9 2194.4 552.6C2195.2 549.2 2197.3 535.0 2198.1 530.6C2198.9 526.2 2201.1 515.5 2201.8 512.3C2202.5 509.0 2203.9 503.1 2204.5 501.3C2205.1 499.5 2206.6 495.8 2207.3 495.8C2207.9 495.8 2209.3 500.6 2210.0 501.3C2210.7 502.0 2213.3 502.1 2213.7 502.2"/><path transform="translate(0.45 0)" d="M234.8 714.3C243.1 714.5 293.6 715.6 309.9 716.1C326.2 716.6 370.3 718.4 383.2 718.7C396.0 719.0 419.0 719.3 427.1 718.7C435.2 718.1 449.2 715.7 456.4 713.2C463.7 710.7 485.0 700.8 493.0 696.0C501.1 691.1 521.6 676.3 529.7 669.2C537.7 662.2 558.2 639.8 566.3 631.9C574.4 623.9 596.3 603.2 602.9 597.1C609.6 590.9 623.3 578.6 626.7 576.2C630.2 573.8 632.3 574.9 634.1 575.1C635.9 575.3 640.8 577.4 643.2 577.7C645.6 577.9 653.6 577.1 656.0 577.7C658.5 578.2 661.0 578.9 665.2 582.4C669.4 586.0 687.3 603.4 694.5 609.9C701.8 616.3 723.1 635.4 731.1 641.0C739.2 646.7 759.7 657.1 767.8 661.2C775.8 665.2 797.5 675.4 804.4 677.7C811.2 680.0 825.2 682.1 830.0 682.1C834.9 682.1 844.3 680.0 848.4 677.7C852.4 675.4 863.0 664.5 866.7 661.2C870.3 657.8 878.5 649.0 881.3 647.3C884.1 645.5 889.5 644.9 892.3 645.4C895.1 645.9 903.7 649.5 907.0 652.0C910.2 654.6 918.0 665.7 921.6 668.5C925.2 671.3 934.7 676.0 939.9 677.7C945.2 679.3 962.6 682.8 969.2 683.9C975.8 685.0 990.0 686.4 1000.0 687.5C1010.0 688.7 1047.3 692.9 1059.9 694.1C1072.5 695.4 1102.7 698.1 1114.8 698.9C1126.9 699.7 1159.7 701.1 1169.8 701.5C1179.9 701.8 1198.4 702.1 1206.4 702.2C1214.5 702.3 1235.0 701.0 1243.0 702.6C1251.1 704.1 1272.4 713.8 1279.7 716.1C1286.9 718.4 1304.3 721.9 1309.0 723.4C1313.6 725.0 1318.6 730.8 1321.8 730.0C1325.0 729.2 1335.3 718.0 1338.3 716.1C1341.3 714.3 1345.6 713.2 1349.3 713.2C1352.9 713.2 1366.8 714.6 1371.2 716.1C1375.7 717.6 1386.3 725.4 1389.6 727.1C1392.8 728.8 1397.7 731.5 1400.5 731.5C1403.4 731.5 1411.8 727.4 1415.2 727.1C1418.6 726.8 1428.5 729.7 1431.7 728.9C1434.9 728.1 1441.1 721.4 1444.5 719.8C1447.9 718.2 1456.8 715.2 1462.8 714.3C1468.9 713.4 1491.4 712.3 1499.5 711.7C1507.5 711.1 1528.8 709.7 1536.1 708.8C1543.3 707.9 1558.5 704.3 1565.4 703.3C1572.2 702.3 1592.7 701.4 1598.4 699.6C1604.0 697.8 1613.4 688.7 1616.7 686.8C1619.9 684.9 1624.4 681.4 1627.7 682.1C1630.9 682.7 1641.5 690.3 1646.0 692.3C1650.4 694.4 1663.9 699.4 1667.9 700.7C1672.0 702.0 1679.3 703.6 1682.6 704.0C1685.9 704.4 1694.6 704.3 1698.3 704.2C1702.1 704.1 1713.8 704.6 1716.6 703.3C1719.5 702.0 1722.3 695.3 1724.0 692.3C1725.6 689.3 1729.9 678.3 1731.3 675.8C1732.7 673.3 1735.4 670.6 1736.8 669.4C1738.2 668.2 1742.6 666.2 1744.1 664.8C1745.6 663.4 1749.3 657.5 1750.5 656.6C1751.7 655.7 1753.9 655.4 1755.1 656.6C1756.3 657.8 1760.1 666.1 1761.5 667.6C1762.9 669.1 1766.4 670.1 1767.9 670.3C1769.4 670.5 1773.8 670.8 1775.2 669.4C1776.6 668.0 1779.6 660.5 1780.7 657.5C1781.8 654.5 1784.3 643.9 1785.3 641.9C1786.3 640.0 1788.6 639.8 1789.9 640.1C1791.2 640.4 1795.9 644.4 1797.2 644.7C1798.5 645.0 1800.8 644.2 1801.8 642.9C1802.8 641.5 1805.1 634.1 1806.4 632.8C1807.7 631.5 1812.4 632.3 1813.7 631.0C1815.0 629.6 1817.4 622.0 1818.3 620.9C1819.2 619.8 1821.0 618.9 1821.9 620.9C1822.8 622.9 1825.5 635.6 1826.5 639.2C1827.5 642.8 1830.1 651.8 1831.1 653.8C1832.1 655.9 1834.2 656.9 1835.7 657.5C1837.2 658.1 1843.0 659.3 1844.8 659.3C1846.6 659.4 1850.3 657.8 1852.2 657.9C1854.0 658.0 1859.7 659.3 1861.3 660.3C1862.9 661.2 1865.6 664.9 1866.8 666.7C1868.0 668.5 1871.2 675.2 1872.3 676.7C1873.4 678.3 1876.0 680.5 1876.9 680.4C1877.8 680.3 1879.8 677.2 1880.5 675.8C1881.3 674.4 1882.5 668.5 1883.3 667.6C1884.1 666.7 1887.0 666.6 1887.9 667.6C1888.8 668.6 1890.6 675.5 1891.5 676.7C1892.4 677.9 1895.1 679.5 1896.1 678.6C1897.1 677.7 1899.8 674.0 1900.7 668.5C1901.6 663.0 1903.7 635.5 1904.4 628.2C1905.1 621.0 1906.5 606.7 1907.1 602.6C1907.7 598.4 1909.2 592.0 1909.9 590.7C1910.5 589.3 1911.9 588.9 1912.6 590.7C1913.3 592.4 1915.3 602.5 1916.3 606.2C1917.3 610.0 1920.8 622.3 1921.8 624.5C1922.8 626.8 1924.6 627.6 1925.4 626.4C1926.2 625.2 1928.2 619.4 1929.1 613.6C1930.0 607.7 1932.7 581.7 1933.7 573.3C1934.7 564.8 1937.3 543.3 1938.2 536.6C1939.1 530.0 1941.2 515.9 1941.9 512.8C1942.6 509.7 1943.8 508.0 1944.7 508.2C1945.5 508.4 1948.2 513.6 1949.2 514.7C1950.2 515.7 1952.8 517.8 1953.8 517.4C1954.8 517.0 1957.7 512.5 1958.4 511.0C1959.1 509.5 1959.3 507.7 1959.9 503.4C1960.5 499.2 1962.8 479.8 1963.6 472.3C1964.3 464.9 1965.7 444.7 1966.3 435.7C1966.9 426.6 1968.4 398.4 1969.0 389.9C1969.7 381.4 1971.1 363.6 1971.8 358.8C1972.5 353.9 1974.7 346.7 1975.5 345.9C1976.3 345.1 1978.4 352.2 1979.1 351.4C1979.8 350.6 1981.2 342.6 1981.9 338.6C1982.6 334.6 1984.8 318.6 1985.5 314.8C1986.3 311.0 1988.0 303.8 1988.8 303.8C1989.6 303.8 1992.0 311.4 1992.9 314.8C1993.7 318.2 1995.7 330.9 1996.5 334.9C1997.3 339.0 1999.0 349.0 2000.2 351.4C2001.4 353.8 2005.9 355.1 2007.5 356.9C2009.1 358.7 2013.6 364.3 2014.8 367.9C2016.0 371.5 2017.6 383.4 2018.5 389.9C2019.4 396.3 2022.0 418.5 2023.1 426.5C2024.2 434.6 2027.5 454.3 2028.6 463.2C2029.7 472.0 2032.1 498.1 2033.2 506.9C2034.3 515.8 2037.5 536.1 2038.7 543.6C2039.9 551.0 2043.0 569.3 2044.2 574.5C2045.5 579.8 2048.5 588.5 2049.7 591.0C2051.0 593.5 2054.1 597.2 2055.2 597.4C2056.3 597.6 2059.0 594.8 2059.8 592.9C2060.6 590.9 2061.9 582.3 2062.6 580.0C2063.2 577.8 2065.1 572.9 2065.9 572.7C2066.7 572.5 2069.0 575.8 2069.9 578.2C2070.7 580.6 2072.7 591.3 2073.6 594.7C2074.4 598.1 2076.2 606.1 2077.2 609.3C2078.2 612.6 2081.3 621.2 2082.7 624.0C2084.1 626.8 2088.4 633.2 2090.0 635.0C2091.6 636.8 2095.3 639.7 2097.4 640.5C2099.4 641.3 2106.1 642.2 2108.4 642.3C2110.6 642.4 2115.3 641.9 2117.5 641.4C2119.7 640.9 2126.1 638.6 2128.5 637.7C2130.9 636.8 2137.1 634.6 2139.5 633.2C2141.9 631.7 2148.3 626.8 2150.5 624.9C2152.7 623.0 2158.0 617.5 2159.6 615.8C2161.2 614.0 2164.0 611.7 2165.1 609.3C2166.2 607.0 2168.7 598.1 2169.7 594.7C2170.7 591.3 2173.0 580.8 2174.3 578.2C2175.6 575.6 2179.8 572.8 2181.6 570.9C2183.4 569.0 2189.4 562.8 2190.8 560.8C2192.2 558.8 2193.6 555.9 2194.4 552.6C2195.2 549.2 2197.3 535.0 2198.1 530.6C2198.9 526.2 2201.1 515.5 2201.8 512.3C2202.5 509.0 2203.9 503.1 2204.5 501.3C2205.1 499.5 2206.6 495.8 2207.3 495.8C2207.9 495.8 2209.3 500.6 2210.0 501.3C2210.7 502.0 2213.3 502.1 2213.7 502.2"/></g>
</g>
<g fill="none">
<path d="M627.7 578.0V1547.0" stroke="#000" stroke-width="2.7" stroke-dasharray="2.7 3.1"/>
<path d="M892.3 647.0V1547.0" stroke="#000" stroke-width="2.7" stroke-dasharray="2.7 3.1"/>
<path d="M1626.5 684.0V1547.0" stroke="#000" stroke-width="2.7" stroke-dasharray="2.7 3.1"/>
<path d="M1754.5 657.0V1335.5" stroke="#4a4a4a" stroke-width="2.7" stroke-dasharray="2.7 3.1"/>
<path d="M1756.7 657.0V1335.5" stroke="#d0d0d0" stroke-width="1.6" stroke-dasharray="2.7 3.1"/>
<path d="M1754.5 1478.0V1547.0" stroke="#4a4a4a" stroke-width="2.7" stroke-dasharray="2.7 3.1"/>
<path d="M1756.7 1478.0V1547.0" stroke="#d0d0d0" stroke-width="1.6" stroke-dasharray="2.7 3.1"/>
<path d="M1790.0 640.0V1335.5" stroke="#a8a8a8" stroke-width="2.5"/>
<path d="M1790.0 640.0V1335.5" stroke="#000" stroke-width="2.7" stroke-dasharray="2.7 3.1"/>
<path d="M1790.0 1478.0V1547.0" stroke="#a8a8a8" stroke-width="2.5"/>
<path d="M1790.0 1478.0V1547.0" stroke="#000" stroke-width="2.7" stroke-dasharray="2.7 3.1"/>
<path d="M1888.2 668.0V1335.5" stroke="#000" stroke-width="2.7" stroke-dasharray="2.7 3.1"/>
<path d="M1888.2 1478.0V1547.0" stroke="#000" stroke-width="2.7" stroke-dasharray="2.7 3.1"/>
<path d="M1912.3 592.0V1335.5" stroke="#a8a8a8" stroke-width="2.5"/>
<path d="M1912.3 592.0V1335.5" stroke="#000" stroke-width="2.7" stroke-dasharray="2.7 3.1"/>
<path d="M1912.3 1478.0V1547.0" stroke="#a8a8a8" stroke-width="2.5"/>
<path d="M1912.3 1478.0V1547.0" stroke="#000" stroke-width="2.7" stroke-dasharray="2.7 3.1"/>
<path d="M1945.5 510.0V1335.5" stroke="#a8a8a8" stroke-width="2.5"/>
<path d="M1945.5 510.0V1335.5" stroke="#000" stroke-width="2.7" stroke-dasharray="2.7 3.1"/>
<path d="M1945.5 1478.0V1547.0" stroke="#a8a8a8" stroke-width="2.5"/>
<path d="M1945.5 1478.0V1547.0" stroke="#000" stroke-width="2.7" stroke-dasharray="2.7 3.1"/>
<path d="M1975.5 347.0V1333.8" stroke="#a8a8a8" stroke-width="2.5"/>
<path d="M1975.5 347.0V1333.8" stroke="#000" stroke-width="2.7" stroke-dasharray="2.7 3.1"/>
<path d="M1975.5 1473.6V1547.0" stroke="#a8a8a8" stroke-width="2.5"/>
<path d="M1975.5 1473.6V1547.0" stroke="#000" stroke-width="2.7" stroke-dasharray="2.7 3.1"/>
<path d="M1989.0 306.0V1333.8" stroke="#000" stroke-width="2.7" stroke-dasharray="2.7 3.1"/>
<path d="M1989.0 1473.6V1547.0" stroke="#000" stroke-width="2.7" stroke-dasharray="2.7 3.1"/>
<path d="M2065.7 575.0V1143.0" stroke="#a8a8a8" stroke-width="2.5"/>
<path d="M2065.7 575.0V1143.0" stroke="#000" stroke-width="2.7" stroke-dasharray="2.7 3.1"/>
<path d="M2064.3 1143.0V1333.8" stroke="#6a6a6a" stroke-width="4.4" stroke-dasharray="2.6 2.9"/>
<path d="M2064.3 1473.6V1547.0" stroke="#4a4a4a" stroke-width="2.7" stroke-dasharray="2.7 3.1"/>
<path d="M2066.5 1473.6V1547.0" stroke="#d0d0d0" stroke-width="1.6" stroke-dasharray="2.7 3.1"/>
<path d="M2117.3 643.0V1333.8" stroke="#000" stroke-width="2.7" stroke-dasharray="2.7 3.1"/>
<path d="M2117.3 1473.6V1547.0" stroke="#000" stroke-width="2.7" stroke-dasharray="2.7 3.1"/>
</g>
<g stroke="#000" stroke-width="5.6" fill="none">
<path d="M2154.9 1550.6V1567.8"/>
<path d="M2007.3 1550.6V1582.8"/>
<path d="M1859.7 1550.6V1567.8"/>
<path d="M1712.0 1550.6V1582.8"/>
<path d="M1564.4 1550.6V1567.8"/>
<path d="M1416.8 1550.6V1582.8"/>
<path d="M1269.2 1550.6V1567.8"/>
<path d="M1121.6 1550.6V1582.8"/>
<path d="M974.0 1550.6V1567.8"/>
<path d="M826.4 1550.6V1582.8"/>
<path d="M678.7 1550.6V1567.8"/>
<path d="M531.1 1550.6V1582.8"/>
<path d="M383.5 1550.6V1567.8"/>
</g>
<g font-size="66.5" text-anchor="middle">
<text x="235.3" y="1652.2">4000</text>
<text x="530.5" y="1652.2">3500</text>
<text x="825.8" y="1652.2">3000</text>
<text x="1121.0" y="1652.2">2500</text>
<text x="1416.2" y="1652.2">2000</text>
<text x="1711.5" y="1652.2">1500</text>
<text x="2006.7" y="1652.2">1000</text>
<text x="2301.9" y="1652.2">500</text>
</g>
<text x="942.0" y="1794.9" font-size="82.0" textLength="582.5" lengthAdjust="spacing"><tspan>Wavenumber (cm</tspan></text>
<text x="1522.0" y="1752.4" font-size="40">−</text>
<text x="1546.0" y="1756.4" font-size="50">1</text>
<text x="1568.5" y="1794.9" font-size="82">)</text>
<g transform="translate(82.6 1074) rotate(-90) scale(0.900 1)"><text x="0.0" y="0.0" font-size="81.0" textLength="645.6" lengthAdjust="spacing"><tspan>Absorbance (a.u.)</tspan></text></g>
<path d="M280.4 86.2H410.9" stroke="#000000" stroke-width="2.7"/>
<text x="424.6" y="103.7" font-size="53.5" font-style="italic" textLength="282.4" lengthAdjust="spacingAndGlyphs"><tspan>E. benthamii</tspan></text>
<path d="M280.4 155.4H410.9" stroke="#ff0000" stroke-width="5.5"/>
<text x="422.7" y="173.8" font-size="53.5" font-style="italic" textLength="252.7" lengthAdjust="spacingAndGlyphs"><tspan>E. globulus</tspan></text>
<path d="M280.4 224.9H410.9" stroke="#0000ff" stroke-width="2.7"/>
<text x="424.6" y="242.7" font-size="53.5" font-style="italic" textLength="212.4" lengthAdjust="spacingAndGlyphs"><tspan>E. smithii</tspan></text>
<path d="M280.4 301.5H410.9" stroke="#ff00ff" stroke-width="2.7"/>
<text x="424.6" y="318.3" font-size="53.5" font-style="italic" textLength="179.4" lengthAdjust="spacingAndGlyphs"><tspan>En × Eg</tspan></text>
<text x="501.4" y="472.0" font-size="45.2" textLength="251.6" lengthAdjust="spacing"><tspan>OH stretching</tspan></text>
<text x="525.4" y="533.8" font-size="43.5" textLength="205.2" lengthAdjust="spacing"><tspan>(3330 cm</tspan><tspan dy="-20.8" font-size="27.0">−1</tspan><tspan dy="20.8">)</tspan></text>
<text x="763.4" y="558.8" font-size="45.2" textLength="248.4" lengthAdjust="spacing"><tspan>CH stretching</tspan></text>
<text x="786.0" y="621.3" font-size="43.5" textLength="204.0" lengthAdjust="spacing"><tspan>(2900 cm</tspan><tspan dy="-20.8" font-size="27.0">−1</tspan><tspan dy="20.8">)</tspan></text>
<text x="1330.4" y="586.2" font-size="45.2" textLength="231.3" lengthAdjust="spacing"><tspan>CH cellulose</tspan></text>
<text x="1288.7" y="649.2" font-size="43.5" textLength="315.8" lengthAdjust="spacing"><tspan>(1430, 1372 cm</tspan><tspan dy="-20.8" font-size="27.0">−1</tspan><tspan dy="20.8">)</tspan></text>
<text x="1584.2" y="526.4" font-size="45.2" textLength="309.9" lengthAdjust="spacing"><tspan>C<tspan fill="#707070">–</tspan>O<tspan fill="#707070">–</tspan>C cellulose</tspan></text>
<text x="1637.2" y="586.4" font-size="43.5" textLength="204.5" lengthAdjust="spacing"><tspan>(1170 cm</tspan><tspan dy="-20.8" font-size="27.0">−1</tspan><tspan dy="20.8">)</tspan></text>
<text x="1603.9" y="291.1" font-size="45.2" textLength="364.4" lengthAdjust="spacing"><tspan>C<tspan fill="#8a8a8a">–</tspan>C ring stretching,</tspan></text>
<text x="1706.8" y="346.0" font-size="45.2" textLength="160.1" lengthAdjust="spacing"><tspan>cellulose</tspan></text>
<text x="1684.5" y="408.9" font-size="43.5" textLength="203.3" lengthAdjust="spacing"><tspan>(1110 cm</tspan><tspan dy="-20.8" font-size="27.0">−1</tspan><tspan dy="20.8">)</tspan></text>
<text x="1751.7" y="111.5" font-size="45.2" textLength="276.3" lengthAdjust="spacing"><tspan>C<tspan fill="#d4d4d4">–</tspan>O stretching</tspan></text>
<text x="1787.0" y="172.2" font-size="43.5" textLength="205.0" lengthAdjust="spacing"><tspan>(1060 cm</tspan><tspan dy="-20.8" font-size="27.0">−1</tspan><tspan dy="20.8">)</tspan></text>
<text x="2026.4" y="209.3" font-size="45.2" textLength="232.4" lengthAdjust="spacing"><tspan>CH cellulose</tspan></text>
<text x="1996.0" y="270.1" font-size="43.5" textLength="293.0" lengthAdjust="spacing"><tspan>(1030, 897 cm</tspan><tspan dy="-20.8" font-size="27.0">−1</tspan><tspan dy="20.8">)</tspan></text>
<text x="1358.7" y="1426.2" font-size="45.2" textLength="259.7" lengthAdjust="spacing"><tspan>Adsorbed H</tspan><tspan dy="14.5" font-size="26.5">2</tspan><tspan dy="-14.5">O</tspan></text>
<text x="1385.9" y="1498.7" font-size="43.5" textLength="205.1" lengthAdjust="spacing"><tspan>(1642 cm</tspan><tspan dy="-20.8" font-size="27.0">−1</tspan><tspan dy="20.8">)</tspan></text>
<text x="1691.2" y="1389.9" font-size="45.2" textLength="253.5" lengthAdjust="spacing"><tspan>S=O vibration</tspan></text>
<text x="1715.7" y="1454.0" font-size="43.5" textLength="204.3" lengthAdjust="spacing"><tspan>(1205 cm</tspan><tspan dy="-20.8" font-size="27.0">−1</tspan><tspan dy="20.8">)</tspan></text>
<text x="1969.4" y="1388.5" font-size="45.2" textLength="306.6" lengthAdjust="spacing"><tspan>C<tspan fill="#707070">–</tspan>O<tspan fill="#707070">–</tspan>S vibration</tspan></text>
<text x="2033.0" y="1450.9" font-size="43.5" textLength="181.6" lengthAdjust="spacing"><tspan>(815 cm</tspan><tspan dy="-20.8" font-size="27.0">−1</tspan><tspan dy="20.8">)</tspan></text>
</svg>
</body></html>
